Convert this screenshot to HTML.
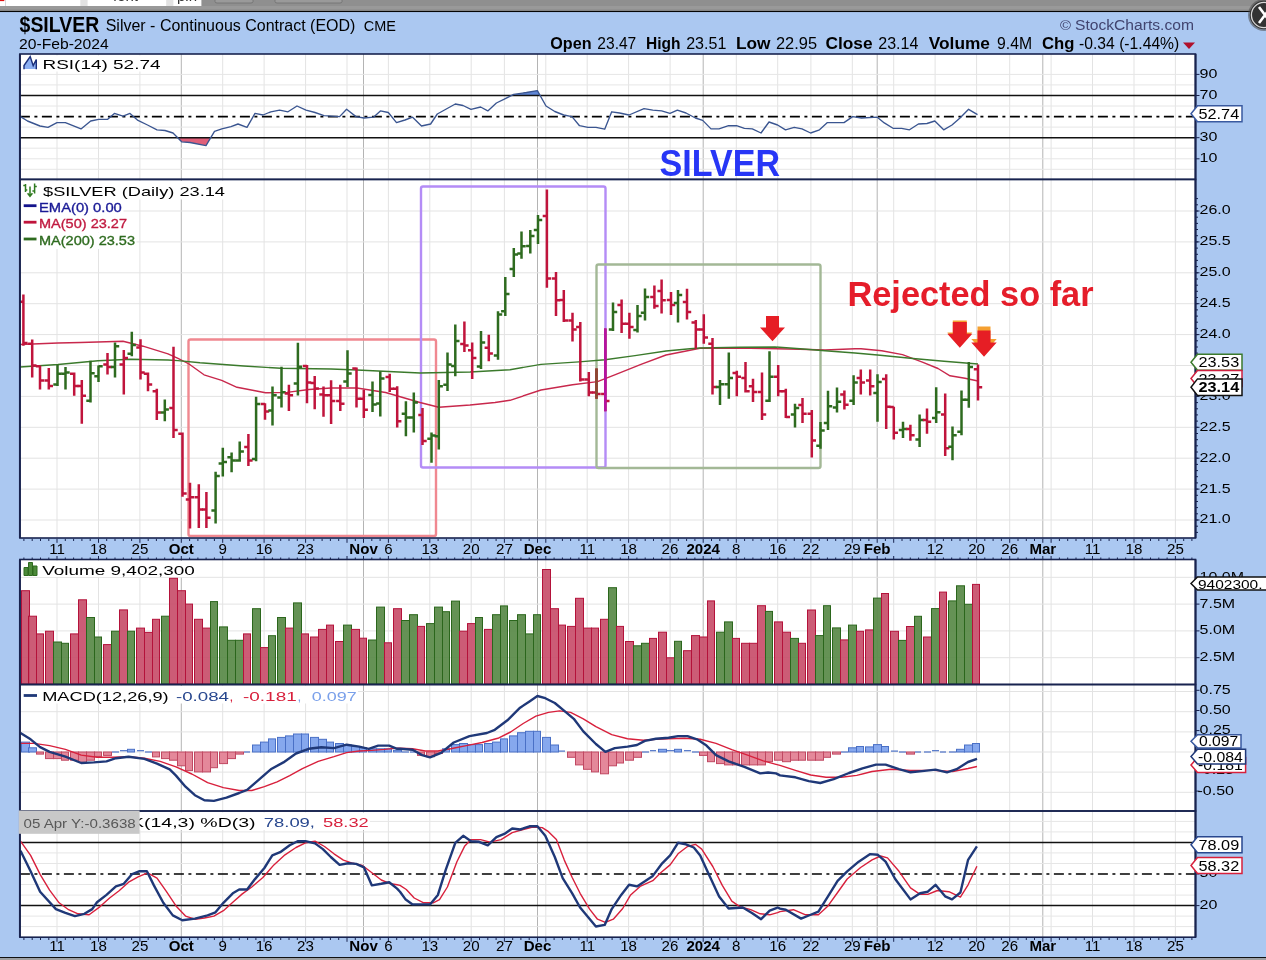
<!DOCTYPE html>
<html><head><meta charset="utf-8"><title>$SILVER</title>
<style>html,body{margin:0;padding:0;background:#abc8f1;overflow:hidden}svg{display:block;font-family:"Liberation Sans",sans-serif;will-change:transform}</style></head>
<body><svg width="1266" height="960" viewBox="0 0 1266 960">
<defs><clipPath id="cs"><rect x="0" y="0" width="210" height="6"/></clipPath></defs>
<rect x="0.0" y="0.0" width="1266.0" height="12.2" fill="#8f8f8f"/>
<rect x="0.0" y="6.0" width="1266.0" height="3.0" fill="#999"/>
<rect x="0.0" y="9.0" width="1266.0" height="0.6" fill="#777"/>
<rect x="0.0" y="9.6" width="1266.0" height="1.2" fill="#ababab"/>
<rect x="0.0" y="10.8" width="1266.0" height="1.4" fill="#050505"/>
<rect x="0.0" y="0.0" width="201.0" height="6.0" fill="#e2e2e2"/>
<rect x="0.0" y="0.0" width="5.0" height="6.0" fill="#fff"/>
<rect x="0.0" y="0.0" width="4.3" height="1.1" fill="#e01010"/>
<rect x="5.0" y="0.0" width="0.6" height="6.0" fill="#b8b8c0"/>
<rect x="5.7" y="0.0" width="74.6" height="6.0" fill="#fff"/>
<rect x="87.6" y="0.0" width="78.6" height="6.0" fill="#fff"/>
<rect x="173.4" y="0.0" width="28.0" height="6.0" fill="#fff"/>
<g clip-path="url(#cs)">
<text x="113.0" y="1.2" font-size="15" fill="#333">font</text>
<text x="177.0" y="1.2" font-size="15" fill="#333">pin</text>
</g>
<path d="M215,0V1.5Q215,3 217,3H251Q253,3 253,1.5V0" fill="#9a9a9a" stroke="#6e6e6e" stroke-width="0.8"/>
<path d="M275,0V1.5Q275,3 277,3H340Q342,3 342,1.5V0" fill="#9a9a9a" stroke="#6e6e6e" stroke-width="0.8"/>
<rect x="0.0" y="12.2" width="1266.0" height="945.1" fill="#abc8f1"/>
<rect x="0.0" y="957.0" width="1266.0" height="1.2" fill="#111"/>
<rect x="0.0" y="958.2" width="1266.0" height="2.0" fill="#a0a0a0"/>
<rect x="19.9" y="54.0" width="1175.6" height="125.4" fill="#fff"/>
<rect x="19.9" y="179.4" width="1175.6" height="358.6" fill="#fff"/>
<rect x="19.9" y="559.5" width="1175.6" height="125.0" fill="#fff"/>
<rect x="19.9" y="684.5" width="1175.6" height="126.5" fill="#fff"/>
<rect x="19.9" y="811.0" width="1175.6" height="126.2" fill="#fff"/>
<line x1="57.0" y1="54.0" x2="57.0" y2="179.4" stroke="#e3e3e3" stroke-width="1"/>
<line x1="98.5" y1="54.0" x2="98.5" y2="179.4" stroke="#e3e3e3" stroke-width="1"/>
<line x1="139.9" y1="54.0" x2="139.9" y2="179.4" stroke="#e3e3e3" stroke-width="1"/>
<line x1="181.3" y1="54.0" x2="181.3" y2="179.4" stroke="#b4b4b4" stroke-width="1"/>
<line x1="222.7" y1="54.0" x2="222.7" y2="179.4" stroke="#e3e3e3" stroke-width="1"/>
<line x1="264.1" y1="54.0" x2="264.1" y2="179.4" stroke="#e3e3e3" stroke-width="1"/>
<line x1="305.6" y1="54.0" x2="305.6" y2="179.4" stroke="#e3e3e3" stroke-width="1"/>
<line x1="347.0" y1="54.0" x2="347.0" y2="179.4" stroke="#e3e3e3" stroke-width="1"/>
<line x1="363.5" y1="54.0" x2="363.5" y2="179.4" stroke="#b4b4b4" stroke-width="1"/>
<line x1="388.4" y1="54.0" x2="388.4" y2="179.4" stroke="#e3e3e3" stroke-width="1"/>
<line x1="429.8" y1="54.0" x2="429.8" y2="179.4" stroke="#e3e3e3" stroke-width="1"/>
<line x1="471.2" y1="54.0" x2="471.2" y2="179.4" stroke="#e3e3e3" stroke-width="1"/>
<line x1="504.4" y1="54.0" x2="504.4" y2="179.4" stroke="#e3e3e3" stroke-width="1"/>
<line x1="537.5" y1="54.0" x2="537.5" y2="179.4" stroke="#b4b4b4" stroke-width="1"/>
<line x1="545.8" y1="54.0" x2="545.8" y2="179.4" stroke="#e3e3e3" stroke-width="1"/>
<line x1="587.2" y1="54.0" x2="587.2" y2="179.4" stroke="#e3e3e3" stroke-width="1"/>
<line x1="628.6" y1="54.0" x2="628.6" y2="179.4" stroke="#e3e3e3" stroke-width="1"/>
<line x1="670.1" y1="54.0" x2="670.1" y2="179.4" stroke="#e3e3e3" stroke-width="1"/>
<line x1="703.2" y1="54.0" x2="703.2" y2="179.4" stroke="#b4b4b4" stroke-width="1"/>
<line x1="736.3" y1="54.0" x2="736.3" y2="179.4" stroke="#e3e3e3" stroke-width="1"/>
<line x1="777.7" y1="54.0" x2="777.7" y2="179.4" stroke="#e3e3e3" stroke-width="1"/>
<line x1="810.9" y1="54.0" x2="810.9" y2="179.4" stroke="#e3e3e3" stroke-width="1"/>
<line x1="852.3" y1="54.0" x2="852.3" y2="179.4" stroke="#e3e3e3" stroke-width="1"/>
<line x1="877.2" y1="54.0" x2="877.2" y2="179.4" stroke="#b4b4b4" stroke-width="1"/>
<line x1="893.7" y1="54.0" x2="893.7" y2="179.4" stroke="#e3e3e3" stroke-width="1"/>
<line x1="935.1" y1="54.0" x2="935.1" y2="179.4" stroke="#e3e3e3" stroke-width="1"/>
<line x1="976.6" y1="54.0" x2="976.6" y2="179.4" stroke="#e3e3e3" stroke-width="1"/>
<line x1="1009.7" y1="54.0" x2="1009.7" y2="179.4" stroke="#e3e3e3" stroke-width="1"/>
<line x1="1042.8" y1="54.0" x2="1042.8" y2="179.4" stroke="#b4b4b4" stroke-width="1"/>
<line x1="1051.1" y1="54.0" x2="1051.1" y2="179.4" stroke="#e3e3e3" stroke-width="1"/>
<line x1="1092.5" y1="54.0" x2="1092.5" y2="179.4" stroke="#e3e3e3" stroke-width="1"/>
<line x1="1134.0" y1="54.0" x2="1134.0" y2="179.4" stroke="#e3e3e3" stroke-width="1"/>
<line x1="1175.4" y1="54.0" x2="1175.4" y2="179.4" stroke="#e3e3e3" stroke-width="1"/>
<line x1="57.0" y1="179.4" x2="57.0" y2="538.0" stroke="#e3e3e3" stroke-width="1"/>
<line x1="98.5" y1="179.4" x2="98.5" y2="538.0" stroke="#e3e3e3" stroke-width="1"/>
<line x1="139.9" y1="179.4" x2="139.9" y2="538.0" stroke="#e3e3e3" stroke-width="1"/>
<line x1="181.3" y1="179.4" x2="181.3" y2="538.0" stroke="#b4b4b4" stroke-width="1"/>
<line x1="222.7" y1="179.4" x2="222.7" y2="538.0" stroke="#e3e3e3" stroke-width="1"/>
<line x1="264.1" y1="179.4" x2="264.1" y2="538.0" stroke="#e3e3e3" stroke-width="1"/>
<line x1="305.6" y1="179.4" x2="305.6" y2="538.0" stroke="#e3e3e3" stroke-width="1"/>
<line x1="347.0" y1="179.4" x2="347.0" y2="538.0" stroke="#e3e3e3" stroke-width="1"/>
<line x1="363.5" y1="179.4" x2="363.5" y2="538.0" stroke="#b4b4b4" stroke-width="1"/>
<line x1="388.4" y1="179.4" x2="388.4" y2="538.0" stroke="#e3e3e3" stroke-width="1"/>
<line x1="429.8" y1="179.4" x2="429.8" y2="538.0" stroke="#e3e3e3" stroke-width="1"/>
<line x1="471.2" y1="179.4" x2="471.2" y2="538.0" stroke="#e3e3e3" stroke-width="1"/>
<line x1="504.4" y1="179.4" x2="504.4" y2="538.0" stroke="#e3e3e3" stroke-width="1"/>
<line x1="537.5" y1="179.4" x2="537.5" y2="538.0" stroke="#b4b4b4" stroke-width="1"/>
<line x1="545.8" y1="179.4" x2="545.8" y2="538.0" stroke="#e3e3e3" stroke-width="1"/>
<line x1="587.2" y1="179.4" x2="587.2" y2="538.0" stroke="#e3e3e3" stroke-width="1"/>
<line x1="628.6" y1="179.4" x2="628.6" y2="538.0" stroke="#e3e3e3" stroke-width="1"/>
<line x1="670.1" y1="179.4" x2="670.1" y2="538.0" stroke="#e3e3e3" stroke-width="1"/>
<line x1="703.2" y1="179.4" x2="703.2" y2="538.0" stroke="#b4b4b4" stroke-width="1"/>
<line x1="736.3" y1="179.4" x2="736.3" y2="538.0" stroke="#e3e3e3" stroke-width="1"/>
<line x1="777.7" y1="179.4" x2="777.7" y2="538.0" stroke="#e3e3e3" stroke-width="1"/>
<line x1="810.9" y1="179.4" x2="810.9" y2="538.0" stroke="#e3e3e3" stroke-width="1"/>
<line x1="852.3" y1="179.4" x2="852.3" y2="538.0" stroke="#e3e3e3" stroke-width="1"/>
<line x1="877.2" y1="179.4" x2="877.2" y2="538.0" stroke="#b4b4b4" stroke-width="1"/>
<line x1="893.7" y1="179.4" x2="893.7" y2="538.0" stroke="#e3e3e3" stroke-width="1"/>
<line x1="935.1" y1="179.4" x2="935.1" y2="538.0" stroke="#e3e3e3" stroke-width="1"/>
<line x1="976.6" y1="179.4" x2="976.6" y2="538.0" stroke="#e3e3e3" stroke-width="1"/>
<line x1="1009.7" y1="179.4" x2="1009.7" y2="538.0" stroke="#e3e3e3" stroke-width="1"/>
<line x1="1042.8" y1="179.4" x2="1042.8" y2="538.0" stroke="#b4b4b4" stroke-width="1"/>
<line x1="1051.1" y1="179.4" x2="1051.1" y2="538.0" stroke="#e3e3e3" stroke-width="1"/>
<line x1="1092.5" y1="179.4" x2="1092.5" y2="538.0" stroke="#e3e3e3" stroke-width="1"/>
<line x1="1134.0" y1="179.4" x2="1134.0" y2="538.0" stroke="#e3e3e3" stroke-width="1"/>
<line x1="1175.4" y1="179.4" x2="1175.4" y2="538.0" stroke="#e3e3e3" stroke-width="1"/>
<line x1="57.0" y1="559.5" x2="57.0" y2="684.5" stroke="#e3e3e3" stroke-width="1"/>
<line x1="98.5" y1="559.5" x2="98.5" y2="684.5" stroke="#e3e3e3" stroke-width="1"/>
<line x1="139.9" y1="559.5" x2="139.9" y2="684.5" stroke="#e3e3e3" stroke-width="1"/>
<line x1="181.3" y1="559.5" x2="181.3" y2="684.5" stroke="#b4b4b4" stroke-width="1"/>
<line x1="222.7" y1="559.5" x2="222.7" y2="684.5" stroke="#e3e3e3" stroke-width="1"/>
<line x1="264.1" y1="559.5" x2="264.1" y2="684.5" stroke="#e3e3e3" stroke-width="1"/>
<line x1="305.6" y1="559.5" x2="305.6" y2="684.5" stroke="#e3e3e3" stroke-width="1"/>
<line x1="347.0" y1="559.5" x2="347.0" y2="684.5" stroke="#e3e3e3" stroke-width="1"/>
<line x1="363.5" y1="559.5" x2="363.5" y2="684.5" stroke="#b4b4b4" stroke-width="1"/>
<line x1="388.4" y1="559.5" x2="388.4" y2="684.5" stroke="#e3e3e3" stroke-width="1"/>
<line x1="429.8" y1="559.5" x2="429.8" y2="684.5" stroke="#e3e3e3" stroke-width="1"/>
<line x1="471.2" y1="559.5" x2="471.2" y2="684.5" stroke="#e3e3e3" stroke-width="1"/>
<line x1="504.4" y1="559.5" x2="504.4" y2="684.5" stroke="#e3e3e3" stroke-width="1"/>
<line x1="537.5" y1="559.5" x2="537.5" y2="684.5" stroke="#b4b4b4" stroke-width="1"/>
<line x1="545.8" y1="559.5" x2="545.8" y2="684.5" stroke="#e3e3e3" stroke-width="1"/>
<line x1="587.2" y1="559.5" x2="587.2" y2="684.5" stroke="#e3e3e3" stroke-width="1"/>
<line x1="628.6" y1="559.5" x2="628.6" y2="684.5" stroke="#e3e3e3" stroke-width="1"/>
<line x1="670.1" y1="559.5" x2="670.1" y2="684.5" stroke="#e3e3e3" stroke-width="1"/>
<line x1="703.2" y1="559.5" x2="703.2" y2="684.5" stroke="#b4b4b4" stroke-width="1"/>
<line x1="736.3" y1="559.5" x2="736.3" y2="684.5" stroke="#e3e3e3" stroke-width="1"/>
<line x1="777.7" y1="559.5" x2="777.7" y2="684.5" stroke="#e3e3e3" stroke-width="1"/>
<line x1="810.9" y1="559.5" x2="810.9" y2="684.5" stroke="#e3e3e3" stroke-width="1"/>
<line x1="852.3" y1="559.5" x2="852.3" y2="684.5" stroke="#e3e3e3" stroke-width="1"/>
<line x1="877.2" y1="559.5" x2="877.2" y2="684.5" stroke="#b4b4b4" stroke-width="1"/>
<line x1="893.7" y1="559.5" x2="893.7" y2="684.5" stroke="#e3e3e3" stroke-width="1"/>
<line x1="935.1" y1="559.5" x2="935.1" y2="684.5" stroke="#e3e3e3" stroke-width="1"/>
<line x1="976.6" y1="559.5" x2="976.6" y2="684.5" stroke="#e3e3e3" stroke-width="1"/>
<line x1="1009.7" y1="559.5" x2="1009.7" y2="684.5" stroke="#e3e3e3" stroke-width="1"/>
<line x1="1042.8" y1="559.5" x2="1042.8" y2="684.5" stroke="#b4b4b4" stroke-width="1"/>
<line x1="1051.1" y1="559.5" x2="1051.1" y2="684.5" stroke="#e3e3e3" stroke-width="1"/>
<line x1="1092.5" y1="559.5" x2="1092.5" y2="684.5" stroke="#e3e3e3" stroke-width="1"/>
<line x1="1134.0" y1="559.5" x2="1134.0" y2="684.5" stroke="#e3e3e3" stroke-width="1"/>
<line x1="1175.4" y1="559.5" x2="1175.4" y2="684.5" stroke="#e3e3e3" stroke-width="1"/>
<line x1="57.0" y1="684.5" x2="57.0" y2="811.0" stroke="#e3e3e3" stroke-width="1"/>
<line x1="98.5" y1="684.5" x2="98.5" y2="811.0" stroke="#e3e3e3" stroke-width="1"/>
<line x1="139.9" y1="684.5" x2="139.9" y2="811.0" stroke="#e3e3e3" stroke-width="1"/>
<line x1="181.3" y1="684.5" x2="181.3" y2="811.0" stroke="#b4b4b4" stroke-width="1"/>
<line x1="222.7" y1="684.5" x2="222.7" y2="811.0" stroke="#e3e3e3" stroke-width="1"/>
<line x1="264.1" y1="684.5" x2="264.1" y2="811.0" stroke="#e3e3e3" stroke-width="1"/>
<line x1="305.6" y1="684.5" x2="305.6" y2="811.0" stroke="#e3e3e3" stroke-width="1"/>
<line x1="347.0" y1="684.5" x2="347.0" y2="811.0" stroke="#e3e3e3" stroke-width="1"/>
<line x1="363.5" y1="684.5" x2="363.5" y2="811.0" stroke="#b4b4b4" stroke-width="1"/>
<line x1="388.4" y1="684.5" x2="388.4" y2="811.0" stroke="#e3e3e3" stroke-width="1"/>
<line x1="429.8" y1="684.5" x2="429.8" y2="811.0" stroke="#e3e3e3" stroke-width="1"/>
<line x1="471.2" y1="684.5" x2="471.2" y2="811.0" stroke="#e3e3e3" stroke-width="1"/>
<line x1="504.4" y1="684.5" x2="504.4" y2="811.0" stroke="#e3e3e3" stroke-width="1"/>
<line x1="537.5" y1="684.5" x2="537.5" y2="811.0" stroke="#b4b4b4" stroke-width="1"/>
<line x1="545.8" y1="684.5" x2="545.8" y2="811.0" stroke="#e3e3e3" stroke-width="1"/>
<line x1="587.2" y1="684.5" x2="587.2" y2="811.0" stroke="#e3e3e3" stroke-width="1"/>
<line x1="628.6" y1="684.5" x2="628.6" y2="811.0" stroke="#e3e3e3" stroke-width="1"/>
<line x1="670.1" y1="684.5" x2="670.1" y2="811.0" stroke="#e3e3e3" stroke-width="1"/>
<line x1="703.2" y1="684.5" x2="703.2" y2="811.0" stroke="#b4b4b4" stroke-width="1"/>
<line x1="736.3" y1="684.5" x2="736.3" y2="811.0" stroke="#e3e3e3" stroke-width="1"/>
<line x1="777.7" y1="684.5" x2="777.7" y2="811.0" stroke="#e3e3e3" stroke-width="1"/>
<line x1="810.9" y1="684.5" x2="810.9" y2="811.0" stroke="#e3e3e3" stroke-width="1"/>
<line x1="852.3" y1="684.5" x2="852.3" y2="811.0" stroke="#e3e3e3" stroke-width="1"/>
<line x1="877.2" y1="684.5" x2="877.2" y2="811.0" stroke="#b4b4b4" stroke-width="1"/>
<line x1="893.7" y1="684.5" x2="893.7" y2="811.0" stroke="#e3e3e3" stroke-width="1"/>
<line x1="935.1" y1="684.5" x2="935.1" y2="811.0" stroke="#e3e3e3" stroke-width="1"/>
<line x1="976.6" y1="684.5" x2="976.6" y2="811.0" stroke="#e3e3e3" stroke-width="1"/>
<line x1="1009.7" y1="684.5" x2="1009.7" y2="811.0" stroke="#e3e3e3" stroke-width="1"/>
<line x1="1042.8" y1="684.5" x2="1042.8" y2="811.0" stroke="#b4b4b4" stroke-width="1"/>
<line x1="1051.1" y1="684.5" x2="1051.1" y2="811.0" stroke="#e3e3e3" stroke-width="1"/>
<line x1="1092.5" y1="684.5" x2="1092.5" y2="811.0" stroke="#e3e3e3" stroke-width="1"/>
<line x1="1134.0" y1="684.5" x2="1134.0" y2="811.0" stroke="#e3e3e3" stroke-width="1"/>
<line x1="1175.4" y1="684.5" x2="1175.4" y2="811.0" stroke="#e3e3e3" stroke-width="1"/>
<line x1="57.0" y1="811.0" x2="57.0" y2="937.2" stroke="#e3e3e3" stroke-width="1"/>
<line x1="98.5" y1="811.0" x2="98.5" y2="937.2" stroke="#e3e3e3" stroke-width="1"/>
<line x1="139.9" y1="811.0" x2="139.9" y2="937.2" stroke="#e3e3e3" stroke-width="1"/>
<line x1="181.3" y1="811.0" x2="181.3" y2="937.2" stroke="#b4b4b4" stroke-width="1"/>
<line x1="222.7" y1="811.0" x2="222.7" y2="937.2" stroke="#e3e3e3" stroke-width="1"/>
<line x1="264.1" y1="811.0" x2="264.1" y2="937.2" stroke="#e3e3e3" stroke-width="1"/>
<line x1="305.6" y1="811.0" x2="305.6" y2="937.2" stroke="#e3e3e3" stroke-width="1"/>
<line x1="347.0" y1="811.0" x2="347.0" y2="937.2" stroke="#e3e3e3" stroke-width="1"/>
<line x1="363.5" y1="811.0" x2="363.5" y2="937.2" stroke="#b4b4b4" stroke-width="1"/>
<line x1="388.4" y1="811.0" x2="388.4" y2="937.2" stroke="#e3e3e3" stroke-width="1"/>
<line x1="429.8" y1="811.0" x2="429.8" y2="937.2" stroke="#e3e3e3" stroke-width="1"/>
<line x1="471.2" y1="811.0" x2="471.2" y2="937.2" stroke="#e3e3e3" stroke-width="1"/>
<line x1="504.4" y1="811.0" x2="504.4" y2="937.2" stroke="#e3e3e3" stroke-width="1"/>
<line x1="537.5" y1="811.0" x2="537.5" y2="937.2" stroke="#b4b4b4" stroke-width="1"/>
<line x1="545.8" y1="811.0" x2="545.8" y2="937.2" stroke="#e3e3e3" stroke-width="1"/>
<line x1="587.2" y1="811.0" x2="587.2" y2="937.2" stroke="#e3e3e3" stroke-width="1"/>
<line x1="628.6" y1="811.0" x2="628.6" y2="937.2" stroke="#e3e3e3" stroke-width="1"/>
<line x1="670.1" y1="811.0" x2="670.1" y2="937.2" stroke="#e3e3e3" stroke-width="1"/>
<line x1="703.2" y1="811.0" x2="703.2" y2="937.2" stroke="#b4b4b4" stroke-width="1"/>
<line x1="736.3" y1="811.0" x2="736.3" y2="937.2" stroke="#e3e3e3" stroke-width="1"/>
<line x1="777.7" y1="811.0" x2="777.7" y2="937.2" stroke="#e3e3e3" stroke-width="1"/>
<line x1="810.9" y1="811.0" x2="810.9" y2="937.2" stroke="#e3e3e3" stroke-width="1"/>
<line x1="852.3" y1="811.0" x2="852.3" y2="937.2" stroke="#e3e3e3" stroke-width="1"/>
<line x1="877.2" y1="811.0" x2="877.2" y2="937.2" stroke="#b4b4b4" stroke-width="1"/>
<line x1="893.7" y1="811.0" x2="893.7" y2="937.2" stroke="#e3e3e3" stroke-width="1"/>
<line x1="935.1" y1="811.0" x2="935.1" y2="937.2" stroke="#e3e3e3" stroke-width="1"/>
<line x1="976.6" y1="811.0" x2="976.6" y2="937.2" stroke="#e3e3e3" stroke-width="1"/>
<line x1="1009.7" y1="811.0" x2="1009.7" y2="937.2" stroke="#e3e3e3" stroke-width="1"/>
<line x1="1042.8" y1="811.0" x2="1042.8" y2="937.2" stroke="#b4b4b4" stroke-width="1"/>
<line x1="1051.1" y1="811.0" x2="1051.1" y2="937.2" stroke="#e3e3e3" stroke-width="1"/>
<line x1="1092.5" y1="811.0" x2="1092.5" y2="937.2" stroke="#e3e3e3" stroke-width="1"/>
<line x1="1134.0" y1="811.0" x2="1134.0" y2="937.2" stroke="#e3e3e3" stroke-width="1"/>
<line x1="1175.4" y1="811.0" x2="1175.4" y2="937.2" stroke="#e3e3e3" stroke-width="1"/>
<line x1="19.9" y1="74.4" x2="1195.5" y2="74.4" stroke="#e6e6e6" stroke-width="1"/>
<line x1="19.9" y1="84.9" x2="1195.5" y2="84.9" stroke="#e6e6e6" stroke-width="1"/>
<line x1="19.9" y1="106.0" x2="1195.5" y2="106.0" stroke="#e6e6e6" stroke-width="1"/>
<line x1="19.9" y1="127.1" x2="1195.5" y2="127.1" stroke="#e6e6e6" stroke-width="1"/>
<line x1="19.9" y1="148.2" x2="1195.5" y2="148.2" stroke="#e6e6e6" stroke-width="1"/>
<line x1="19.9" y1="158.8" x2="1195.5" y2="158.8" stroke="#e6e6e6" stroke-width="1"/>
<line x1="19.9" y1="169.3" x2="1195.5" y2="169.3" stroke="#e6e6e6" stroke-width="1"/>
<clipPath id="c70"><rect x="0" y="0" width="1266" height="95.5"/></clipPath>
<clipPath id="c30"><rect x="0" y="137.7" width="1266" height="100"/></clipPath>
<polygon points="20.5,95.5 20.5,116.6 27.5,121.0 40.0,126.0 48.0,127.3 57.0,122.6 65.4,122.6 81.0,128.9 90.7,121.0 98.6,119.4 107.4,119.4 114.4,113.4 123.0,116.2 130.0,113.4 138.0,120.4 147.5,125.0 157.0,129.8 165.0,130.5 173.0,133.0 181.7,141.8 190.0,142.5 206.0,145.6 214.5,131.4 221.8,128.9 231.0,126.7 238.0,124.0 247.0,127.3 255.0,113.4 263.0,115.0 270.8,111.8 279.6,110.2 288.0,111.8 297.0,106.0 306.0,110.2 315.0,112.5 324.0,115.6 339.6,116.6 346.6,109.3 356.0,116.6 364.0,118.0 373.5,117.2 380.4,110.9 388.3,112.5 396.5,122.6 405.0,120.0 412.6,117.2 421.5,126.0 430.6,124.0 437.3,114.0 455.3,104.0 463.0,105.5 471.0,109.3 480.6,107.0 487.8,110.9 496.4,103.0 504.3,99.2 513.7,94.4 526.4,92.5 537.4,90.6 546.0,106.0 554.8,111.5 563.7,115.0 572.0,116.6 579.5,125.7 588.0,127.3 596.0,127.3 604.7,129.2 611.7,111.8 619.6,113.0 629.0,115.0 644.0,108.7 652.8,110.2 661.6,110.9 670.0,113.4 677.4,110.2 686.0,113.0 695.4,118.0 702.7,120.4 711.0,128.9 719.0,128.9 728.6,125.7 736.5,125.7 744.4,128.3 752.3,128.9 761.0,133.0 769.0,122.0 777.6,125.0 785.5,129.8 794.2,127.3 802.0,128.9 810.6,133.0 819.5,129.8 827.4,122.6 844.0,122.6 852.7,116.6 861.5,118.0 877.3,117.2 884.3,122.9 893.0,128.3 901.6,128.3 909.5,129.8 918.4,124.0 927.0,123.5 934.8,121.0 943.7,129.8 952.0,125.0 960.0,118.0 968.6,109.3 977.5,114.7 977.5,95.5" fill="#5f86d6" clip-path="url(#c70)"/>
<polygon points="20.5,137.7 20.5,116.6 27.5,121.0 40.0,126.0 48.0,127.3 57.0,122.6 65.4,122.6 81.0,128.9 90.7,121.0 98.6,119.4 107.4,119.4 114.4,113.4 123.0,116.2 130.0,113.4 138.0,120.4 147.5,125.0 157.0,129.8 165.0,130.5 173.0,133.0 181.7,141.8 190.0,142.5 206.0,145.6 214.5,131.4 221.8,128.9 231.0,126.7 238.0,124.0 247.0,127.3 255.0,113.4 263.0,115.0 270.8,111.8 279.6,110.2 288.0,111.8 297.0,106.0 306.0,110.2 315.0,112.5 324.0,115.6 339.6,116.6 346.6,109.3 356.0,116.6 364.0,118.0 373.5,117.2 380.4,110.9 388.3,112.5 396.5,122.6 405.0,120.0 412.6,117.2 421.5,126.0 430.6,124.0 437.3,114.0 455.3,104.0 463.0,105.5 471.0,109.3 480.6,107.0 487.8,110.9 496.4,103.0 504.3,99.2 513.7,94.4 526.4,92.5 537.4,90.6 546.0,106.0 554.8,111.5 563.7,115.0 572.0,116.6 579.5,125.7 588.0,127.3 596.0,127.3 604.7,129.2 611.7,111.8 619.6,113.0 629.0,115.0 644.0,108.7 652.8,110.2 661.6,110.9 670.0,113.4 677.4,110.2 686.0,113.0 695.4,118.0 702.7,120.4 711.0,128.9 719.0,128.9 728.6,125.7 736.5,125.7 744.4,128.3 752.3,128.9 761.0,133.0 769.0,122.0 777.6,125.0 785.5,129.8 794.2,127.3 802.0,128.9 810.6,133.0 819.5,129.8 827.4,122.6 844.0,122.6 852.7,116.6 861.5,118.0 877.3,117.2 884.3,122.9 893.0,128.3 901.6,128.3 909.5,129.8 918.4,124.0 927.0,123.5 934.8,121.0 943.7,129.8 952.0,125.0 960.0,118.0 968.6,109.3 977.5,114.7 977.5,137.7" fill="#e0607a" clip-path="url(#c30)"/>
<line x1="19.9" y1="95.5" x2="1195.5" y2="95.5" stroke="#111" stroke-width="1.5"/>
<line x1="19.9" y1="137.7" x2="1195.5" y2="137.7" stroke="#111" stroke-width="1.5"/>
<line x1="19.9" y1="116.6" x2="1195.5" y2="116.6" stroke="#000" stroke-width="1.65" stroke-dasharray="10,4.5,3,4.5"/>
<polyline points="20.5,116.6 27.5,121.0 40.0,126.0 48.0,127.3 57.0,122.6 65.4,122.6 81.0,128.9 90.7,121.0 98.6,119.4 107.4,119.4 114.4,113.4 123.0,116.2 130.0,113.4 138.0,120.4 147.5,125.0 157.0,129.8 165.0,130.5 173.0,133.0 181.7,141.8 190.0,142.5 206.0,145.6 214.5,131.4 221.8,128.9 231.0,126.7 238.0,124.0 247.0,127.3 255.0,113.4 263.0,115.0 270.8,111.8 279.6,110.2 288.0,111.8 297.0,106.0 306.0,110.2 315.0,112.5 324.0,115.6 339.6,116.6 346.6,109.3 356.0,116.6 364.0,118.0 373.5,117.2 380.4,110.9 388.3,112.5 396.5,122.6 405.0,120.0 412.6,117.2 421.5,126.0 430.6,124.0 437.3,114.0 455.3,104.0 463.0,105.5 471.0,109.3 480.6,107.0 487.8,110.9 496.4,103.0 504.3,99.2 513.7,94.4 526.4,92.5 537.4,90.6 546.0,106.0 554.8,111.5 563.7,115.0 572.0,116.6 579.5,125.7 588.0,127.3 596.0,127.3 604.7,129.2 611.7,111.8 619.6,113.0 629.0,115.0 644.0,108.7 652.8,110.2 661.6,110.9 670.0,113.4 677.4,110.2 686.0,113.0 695.4,118.0 702.7,120.4 711.0,128.9 719.0,128.9 728.6,125.7 736.5,125.7 744.4,128.3 752.3,128.9 761.0,133.0 769.0,122.0 777.6,125.0 785.5,129.8 794.2,127.3 802.0,128.9 810.6,133.0 819.5,129.8 827.4,122.6 844.0,122.6 852.7,116.6 861.5,118.0 877.3,117.2 884.3,122.9 893.0,128.3 901.6,128.3 909.5,129.8 918.4,124.0 927.0,123.5 934.8,121.0 943.7,129.8 952.0,125.0 960.0,118.0 968.6,109.3 977.5,114.7" fill="none" stroke="#3a5590" stroke-width="1.35" stroke-linejoin="round"/>
<rect x="21.0" y="55.5" width="141.0" height="16.0" fill="#fff"/>
<path d="M24,69 L24,65.5 L30.2,56.4 L33.2,65.6 L36.3,59.3 L36.3,69 Z" fill="#8db0f2"/><path d="M24,69.3 L24,65.5 L30.2,56.6 L33.2,65.6 L36.3,59.5 L36.3,69.3" fill="none" stroke="#1a2e7a" stroke-width="1.4" stroke-linejoin="miter"/>
<text x="42.5" y="68.8" font-size="13.5" textLength="118.0" lengthAdjust="spacingAndGlyphs">RSI(14) 52.74</text>
<line x1="19.9" y1="520.0" x2="1195.5" y2="520.0" stroke="#e3e3e3" stroke-width="1"/>
<line x1="19.9" y1="489.1" x2="1195.5" y2="489.1" stroke="#e3e3e3" stroke-width="1"/>
<line x1="19.9" y1="458.2" x2="1195.5" y2="458.2" stroke="#e3e3e3" stroke-width="1"/>
<line x1="19.9" y1="427.3" x2="1195.5" y2="427.3" stroke="#e3e3e3" stroke-width="1"/>
<line x1="19.9" y1="396.4" x2="1195.5" y2="396.4" stroke="#e3e3e3" stroke-width="1"/>
<line x1="19.9" y1="365.5" x2="1195.5" y2="365.5" stroke="#e3e3e3" stroke-width="1"/>
<line x1="19.9" y1="334.6" x2="1195.5" y2="334.6" stroke="#e3e3e3" stroke-width="1"/>
<line x1="19.9" y1="303.7" x2="1195.5" y2="303.7" stroke="#e3e3e3" stroke-width="1"/>
<line x1="19.9" y1="272.8" x2="1195.5" y2="272.8" stroke="#e3e3e3" stroke-width="1"/>
<line x1="19.9" y1="241.9" x2="1195.5" y2="241.9" stroke="#e3e3e3" stroke-width="1"/>
<line x1="19.9" y1="211.0" x2="1195.5" y2="211.0" stroke="#e3e3e3" stroke-width="1"/>
<rect x="188.5" y="339.5" width="247.5" height="196.5" fill="none" stroke="#f08890" stroke-width="2.4" rx="2"/>
<rect x="421.0" y="186.5" width="184.5" height="281.0" fill="none" stroke="#b48cf6" stroke-width="2.4" rx="2"/>
<rect x="596.5" y="264.5" width="224.0" height="203.5" fill="none" stroke="#a3b896" stroke-width="2.4" rx="2"/>
<polyline points="20.0,344.5 58.0,343.0 80.5,342.5 123.0,341.2 143.0,346.2 168.0,353.8 178.0,358.4 189.0,364.0 204.0,374.8 221.7,380.3 237.0,387.3 265.5,392.8 287.0,392.4 309.0,389.5 331.0,388.0 357.0,388.0 385.6,392.5 420.0,402.5 438.8,407.2 470.0,405.0 495.0,402.5 510.0,400.3 541.0,390.0 572.5,384.7 597.5,381.6 616.0,374.4 641.0,364.4 666.0,355.0 690.0,350.3 700.0,348.2 750.0,348.2 800.0,349.2 825.0,350.0 855.0,348.8 861.0,348.8 881.7,350.8 902.5,354.6 923.0,362.3 938.0,368.5 950.0,375.8 965.0,378.3 978.0,381.0" fill="none" stroke="#c8284c" stroke-width="1.4" stroke-linejoin="round"/>
<polyline points="20.0,367.0 58.0,364.5 98.0,360.8 130.5,359.2 168.0,360.0 178.0,360.6 200.0,362.8 243.6,366.0 280.8,368.3 331.0,369.0 357.0,370.0 420.0,373.0 470.0,372.0 510.0,369.7 541.0,364.4 579.0,361.9 605.0,359.7 635.0,355.6 666.0,351.0 690.0,348.8 700.0,348.0 740.0,347.3 775.0,347.0 800.0,348.8 825.0,350.8 855.0,353.0 877.5,355.0 913.0,358.5 944.0,361.2 978.0,364.0" fill="none" stroke="#3b7a2c" stroke-width="1.4" stroke-linejoin="round"/>
<path d="M23.4,294.4V345.8M19.2,301.8H23.4M23.4,343.0H27.6" stroke="#c0143c" stroke-width="2.5" fill="none"/>
<path d="M32.2,339.5V377.5M28.1,343.8H32.2M32.2,365.5H36.5" stroke="#c0143c" stroke-width="2.5" fill="none"/>
<path d="M40.0,365.5V389.5M35.8,366.2H40.0M40.0,380.5H44.2" stroke="#c0143c" stroke-width="2.5" fill="none"/>
<path d="M48.8,368.0V389.5M44.5,380.5H48.8M48.8,386.0H53.0" stroke="#c0143c" stroke-width="2.5" fill="none"/>
<path d="M57.5,364.5V386.0M53.3,384.5H57.5M57.5,373.8H61.7" stroke="#2e6b1f" stroke-width="2.5" fill="none"/>
<path d="M65.5,367.0V389.5M61.3,373.8H65.5M65.5,372.5H69.7" stroke="#2e6b1f" stroke-width="2.5" fill="none"/>
<path d="M74.2,372.5V395.8M70.0,373.8H74.2M74.2,386.0H78.5" stroke="#c0143c" stroke-width="2.5" fill="none"/>
<path d="M81.8,380.0V423.8M77.5,386.0H81.8M81.8,395.8H86.0" stroke="#c0143c" stroke-width="2.5" fill="none"/>
<path d="M90.5,360.8V402.5M86.3,400.8H90.5M90.5,373.2H94.7" stroke="#2e6b1f" stroke-width="2.5" fill="none"/>
<path d="M98.5,365.5V382.0M94.3,376.2H98.5M98.5,366.2H102.7" stroke="#2e6b1f" stroke-width="2.5" fill="none"/>
<path d="M107.5,353.0V374.5M103.3,364.5H107.5M107.5,367.0H111.7" stroke="#c0143c" stroke-width="2.5" fill="none"/>
<path d="M115.0,342.5V377.5M110.8,367.0H115.0M115.0,346.2H119.2" stroke="#2e6b1f" stroke-width="2.5" fill="none"/>
<path d="M123.8,350.0V394.5M119.5,364.5H123.8M123.8,358.0H128.0" stroke="#c0143c" stroke-width="2.5" fill="none"/>
<path d="M131.8,331.8V356.2M127.5,353.8H131.8M131.8,345.0H135.9" stroke="#2e6b1f" stroke-width="2.5" fill="none"/>
<path d="M140.5,339.2V379.5M136.3,347.5H140.5M140.5,372.5H144.7" stroke="#c0143c" stroke-width="2.5" fill="none"/>
<path d="M148.0,372.5V391.2M143.8,373.8H148.0M148.0,384.5H152.2" stroke="#c0143c" stroke-width="2.5" fill="none"/>
<path d="M156.8,388.8V420.0M152.6,391.2H156.8M156.8,412.5H160.9" stroke="#c0143c" stroke-width="2.5" fill="none"/>
<path d="M164.8,399.5V421.2M160.6,412.5H164.8M164.8,409.5H168.9" stroke="#2e6b1f" stroke-width="2.5" fill="none"/>
<path d="M173.5,346.8V438.0M169.3,408.0H173.5M173.5,430.0H177.7" stroke="#c0143c" stroke-width="2.5" fill="none"/>
<path d="M182.5,432.5V496.8M178.3,433.8H182.5M182.5,493.5H186.7" stroke="#c0143c" stroke-width="2.5" fill="none"/>
<path d="M190.0,482.7V528.4M185.8,499.5H190.0M190.0,497.3H194.2" stroke="#c0143c" stroke-width="2.5" fill="none"/>
<path d="M198.8,484.2V528.0M194.6,497.3H198.8M198.8,509.4H203.0" stroke="#c0143c" stroke-width="2.5" fill="none"/>
<path d="M206.4,491.9V528.0M202.2,509.4H206.4M206.4,517.7H210.6" stroke="#c0143c" stroke-width="2.5" fill="none"/>
<path d="M215.6,471.7V523.6M211.4,510.4H215.6M215.6,476.1H219.8" stroke="#2e6b1f" stroke-width="2.5" fill="none"/>
<path d="M222.8,447.7V476.5M218.6,463.4H222.8M222.8,461.9H227.0" stroke="#2e6b1f" stroke-width="2.5" fill="none"/>
<path d="M231.6,452.5V472.2M227.4,457.3H231.6M231.6,460.6H235.8" stroke="#2e6b1f" stroke-width="2.5" fill="none"/>
<path d="M239.7,441.5V461.7M235.5,460.6H239.7M239.7,451.4H243.9" stroke="#2e6b1f" stroke-width="2.5" fill="none"/>
<path d="M248.4,433.9V466.0M244.2,447.0H248.4M248.4,460.6H252.6" stroke="#c0143c" stroke-width="2.5" fill="none"/>
<path d="M256.1,396.7V461.2M251.9,459.0H256.1M256.1,403.9H260.3" stroke="#2e6b1f" stroke-width="2.5" fill="none"/>
<path d="M265.0,403.3V419.7M260.8,403.9H265.0M265.0,411.4H269.2" stroke="#c0143c" stroke-width="2.5" fill="none"/>
<path d="M272.5,386.4V425.6M268.3,410.5H272.5M272.5,395.2H276.7" stroke="#2e6b1f" stroke-width="2.5" fill="none"/>
<path d="M281.5,366.7V407.6M277.3,397.4H281.5M281.5,392.3H285.7" stroke="#2e6b1f" stroke-width="2.5" fill="none"/>
<path d="M288.9,384.7V410.9M284.7,393.4H288.9M288.9,395.2H293.1" stroke="#c0143c" stroke-width="2.5" fill="none"/>
<path d="M297.9,342.7V395.6M293.7,383.6H297.9M297.9,366.7H302.1" stroke="#2e6b1f" stroke-width="2.5" fill="none"/>
<path d="M307.0,365.0V403.3M302.8,366.0H307.0M307.0,382.5H311.2" stroke="#c0143c" stroke-width="2.5" fill="none"/>
<path d="M314.7,375.9V409.2M310.5,382.9H314.7M314.7,388.6H318.9" stroke="#c0143c" stroke-width="2.5" fill="none"/>
<path d="M323.5,386.4V416.8M319.3,394.5H323.5M323.5,395.2H327.7" stroke="#c0143c" stroke-width="2.5" fill="none"/>
<path d="M331.1,380.3V424.0M326.9,395.2H331.1M331.1,401.1H335.3" stroke="#c0143c" stroke-width="2.5" fill="none"/>
<path d="M340.3,384.7V410.9M336.1,401.1H340.3M340.3,403.7H344.5" stroke="#c0143c" stroke-width="2.5" fill="none"/>
<path d="M347.5,350.2V387.0M343.3,381.4H347.5M347.5,373.4H351.7" stroke="#2e6b1f" stroke-width="2.5" fill="none"/>
<path d="M356.5,367.5V407.5M352.3,368.4H356.5M356.5,398.8H360.7" stroke="#c0143c" stroke-width="2.5" fill="none"/>
<path d="M363.8,390.0V418.0M359.6,398.8H363.8M363.8,409.7H367.9" stroke="#c0143c" stroke-width="2.5" fill="none"/>
<path d="M372.5,381.5V411.9M368.3,395.0H372.5M372.5,404.4H376.7" stroke="#2e6b1f" stroke-width="2.5" fill="none"/>
<path d="M380.3,371.2V416.5M376.1,403.4H380.3M380.3,378.4H384.5" stroke="#2e6b1f" stroke-width="2.5" fill="none"/>
<path d="M389.7,373.8V391.9M385.5,376.9H389.7M389.7,388.8H393.9" stroke="#c0143c" stroke-width="2.5" fill="none"/>
<path d="M397.2,386.2V427.5M393.0,388.8H397.2M397.2,421.2H401.4" stroke="#c0143c" stroke-width="2.5" fill="none"/>
<path d="M405.9,401.2V436.2M401.7,413.8H405.9M405.9,417.5H410.1" stroke="#2e6b1f" stroke-width="2.5" fill="none"/>
<path d="M413.8,392.5V432.5M409.6,417.5H413.8M413.8,402.5H417.9" stroke="#2e6b1f" stroke-width="2.5" fill="none"/>
<path d="M422.5,408.0V445.0M418.3,415.0H422.5M422.5,441.0H426.7" stroke="#c0143c" stroke-width="2.5" fill="none"/>
<path d="M431.5,432.5V462.8M427.3,438.8H431.5M431.5,435.6H435.7" stroke="#2e6b1f" stroke-width="2.5" fill="none"/>
<path d="M438.8,380.0V449.4M434.6,436.2H438.8M438.8,386.2H442.9" stroke="#2e6b1f" stroke-width="2.5" fill="none"/>
<path d="M447.5,352.5V391.0M443.3,384.7H447.5M447.5,364.4H451.7" stroke="#2e6b1f" stroke-width="2.5" fill="none"/>
<path d="M455.3,324.4V376.2M451.1,366.0H455.3M455.3,341.0H459.5" stroke="#2e6b1f" stroke-width="2.5" fill="none"/>
<path d="M464.4,321.5V351.9M460.2,344.0H464.4M464.4,345.6H468.6" stroke="#c0143c" stroke-width="2.5" fill="none"/>
<path d="M472.2,342.5V379.0M468.0,350.3H472.2M472.2,358.0H476.4" stroke="#c0143c" stroke-width="2.5" fill="none"/>
<path d="M481.0,331.0V369.0M476.8,366.5H481.0M481.0,342.5H485.2" stroke="#2e6b1f" stroke-width="2.5" fill="none"/>
<path d="M488.8,334.7V361.2M484.6,347.8H488.8M488.8,353.4H492.9" stroke="#c0143c" stroke-width="2.5" fill="none"/>
<path d="M498.0,311.2V359.7M493.8,355.6H498.0M498.0,314.4H502.2" stroke="#2e6b1f" stroke-width="2.5" fill="none"/>
<path d="M505.3,276.9V316.0M501.1,311.2H505.3M505.3,294.0H509.5" stroke="#2e6b1f" stroke-width="2.5" fill="none"/>
<path d="M513.8,248.0V276.9M509.6,269.0H513.8M513.8,254.4H518.0" stroke="#2e6b1f" stroke-width="2.5" fill="none"/>
<path d="M521.5,231.5V258.8M517.3,253.4H521.5M521.5,246.2H525.7" stroke="#2e6b1f" stroke-width="2.5" fill="none"/>
<path d="M530.3,230.0V253.4M526.1,246.0H530.3M530.3,236.0H534.5" stroke="#2e6b1f" stroke-width="2.5" fill="none"/>
<path d="M538.0,215.0V244.0M533.8,230.0H538.0M538.0,220.0H542.2" stroke="#2e6b1f" stroke-width="2.5" fill="none"/>
<path d="M546.9,189.4V287.8M542.7,216.0H546.9M546.9,278.4H551.1" stroke="#c0143c" stroke-width="2.5" fill="none"/>
<path d="M556.0,272.0V316.0M551.8,278.4H556.0M556.0,300.3H560.2" stroke="#c0143c" stroke-width="2.5" fill="none"/>
<path d="M563.8,290.0V322.0M559.5,300.0H563.8M563.8,320.6H568.0" stroke="#c0143c" stroke-width="2.5" fill="none"/>
<path d="M572.5,312.8V341.5M568.3,320.6H572.5M572.5,329.4H576.7" stroke="#c0143c" stroke-width="2.5" fill="none"/>
<path d="M580.3,322.0V381.5M576.1,326.9H580.3M580.3,379.4H584.5" stroke="#c0143c" stroke-width="2.5" fill="none"/>
<path d="M588.8,372.0V396.2M584.5,379.4H588.8M588.8,392.5H593.0" stroke="#c0143c" stroke-width="2.5" fill="none"/>
<path d="M596.5,368.4V398.8M592.3,392.5H596.5M596.5,394.0H600.7" stroke="#c0143c" stroke-width="2.5" fill="none"/>
<path d="M605.3,328.4V411.2M601.1,394.0H605.3M605.3,401.0H609.5" stroke="#c0143c" stroke-width="2.5" fill="none"/>
<path d="M613.0,302.5V331.0M608.8,329.4H613.0M613.0,312.0H617.2" stroke="#2e6b1f" stroke-width="2.5" fill="none"/>
<path d="M621.6,299.4V333.0M617.4,305.0H621.6M621.6,323.8H625.8" stroke="#c0143c" stroke-width="2.5" fill="none"/>
<path d="M629.4,312.8V338.8M625.2,323.8H629.4M629.4,326.9H633.6" stroke="#c0143c" stroke-width="2.5" fill="none"/>
<path d="M637.5,305.0V332.5M633.3,330.0H637.5M637.5,316.0H641.7" stroke="#2e6b1f" stroke-width="2.5" fill="none"/>
<path d="M645.0,288.4V320.6M640.8,312.8H645.0M645.0,297.0H649.2" stroke="#2e6b1f" stroke-width="2.5" fill="none"/>
<path d="M654.4,285.6V308.8M650.2,297.0H654.4M654.4,306.0H658.6" stroke="#c0143c" stroke-width="2.5" fill="none"/>
<path d="M661.6,279.4V313.4M657.4,291.0H661.6M661.6,300.3H665.8" stroke="#c0143c" stroke-width="2.5" fill="none"/>
<path d="M671.0,292.0V315.0M666.8,300.0H671.0M671.0,305.0H675.2" stroke="#c0143c" stroke-width="2.5" fill="none"/>
<path d="M678.0,290.0V322.5M673.8,303.0H678.0M678.0,295.0H682.2" stroke="#2e6b1f" stroke-width="2.5" fill="none"/>
<path d="M687.0,288.8V319.5M682.8,302.0H687.0M687.0,312.0H691.2" stroke="#c0143c" stroke-width="2.5" fill="none"/>
<path d="M695.8,320.0V348.8M691.5,322.5H695.8M695.8,329.5H700.0" stroke="#c0143c" stroke-width="2.5" fill="none"/>
<path d="M703.8,314.2V343.8M699.5,329.5H703.8M703.8,337.5H708.0" stroke="#c0143c" stroke-width="2.5" fill="none"/>
<path d="M712.5,338.0V394.5M708.3,343.8H712.5M712.5,387.0H716.7" stroke="#c0143c" stroke-width="2.5" fill="none"/>
<path d="M720.0,380.0V405.0M715.8,387.0H720.0M720.0,384.2H724.2" stroke="#2e6b1f" stroke-width="2.5" fill="none"/>
<path d="M728.8,352.5V398.8M724.5,384.2H728.8M728.8,378.0H733.0" stroke="#2e6b1f" stroke-width="2.5" fill="none"/>
<path d="M736.8,370.8V396.2M732.5,373.0H736.8M736.8,376.8H741.0" stroke="#c0143c" stroke-width="2.5" fill="none"/>
<path d="M745.5,362.0V392.5M741.3,378.0H745.5M745.5,391.2H749.7" stroke="#c0143c" stroke-width="2.5" fill="none"/>
<path d="M753.0,378.8V402.0M748.8,386.2H753.0M753.0,392.0H757.2" stroke="#c0143c" stroke-width="2.5" fill="none"/>
<path d="M762.0,372.5V420.0M757.8,392.0H762.0M762.0,414.5H766.2" stroke="#c0143c" stroke-width="2.5" fill="none"/>
<path d="M769.5,351.2V402.0M765.3,400.8H769.5M769.5,376.8H773.7" stroke="#2e6b1f" stroke-width="2.5" fill="none"/>
<path d="M778.2,365.0V396.2M774.0,376.8H778.2M778.2,391.2H782.5" stroke="#c0143c" stroke-width="2.5" fill="none"/>
<path d="M785.8,388.8V418.0M781.5,391.2H785.8M785.8,417.0H790.0" stroke="#c0143c" stroke-width="2.5" fill="none"/>
<path d="M795.0,403.8V427.5M790.8,414.5H795.0M795.0,408.0H799.2" stroke="#2e6b1f" stroke-width="2.5" fill="none"/>
<path d="M802.5,398.0V423.0M798.3,405.0H802.5M802.5,413.8H806.7" stroke="#c0143c" stroke-width="2.5" fill="none"/>
<path d="M811.8,410.0V457.5M807.5,413.8H811.8M811.8,440.5H816.0" stroke="#c0143c" stroke-width="2.5" fill="none"/>
<path d="M820.5,422.0V448.8M816.3,445.8H820.5M820.5,430.5H824.7" stroke="#2e6b1f" stroke-width="2.5" fill="none"/>
<path d="M828.0,390.8V430.0M823.8,423.0H828.0M828.0,406.2H832.2" stroke="#2e6b1f" stroke-width="2.5" fill="none"/>
<path d="M837.0,387.5V412.5M832.8,407.5H837.0M837.0,401.8H841.2" stroke="#2e6b1f" stroke-width="2.5" fill="none"/>
<path d="M844.4,390.4V409.4M840.2,394.5H844.4M844.4,404.8H848.6" stroke="#c0143c" stroke-width="2.5" fill="none"/>
<path d="M853.6,375.2V405.0M849.4,400.8H853.6M853.6,382.5H857.8" stroke="#2e6b1f" stroke-width="2.5" fill="none"/>
<path d="M860.8,369.6V394.6M856.6,378.0H860.8M860.8,382.5H865.0" stroke="#c0143c" stroke-width="2.5" fill="none"/>
<path d="M870.2,369.6V395.6M866.0,380.6H870.2M870.2,386.2H874.4" stroke="#c0143c" stroke-width="2.5" fill="none"/>
<path d="M877.5,374.2V421.7M873.3,393.0H877.5M877.5,382.0H881.7" stroke="#2e6b1f" stroke-width="2.5" fill="none"/>
<path d="M886.2,374.2V429.0M882.0,379.0H886.2M886.2,406.7H890.5" stroke="#c0143c" stroke-width="2.5" fill="none"/>
<path d="M893.8,406.7V439.4M889.5,407.0H893.8M893.8,432.7H898.0" stroke="#c0143c" stroke-width="2.5" fill="none"/>
<path d="M903.0,421.7V438.0M898.8,430.0H903.0M903.0,429.0H907.2" stroke="#2e6b1f" stroke-width="2.5" fill="none"/>
<path d="M910.4,424.8V440.8M906.2,429.0H910.4M910.4,435.2H914.6" stroke="#c0143c" stroke-width="2.5" fill="none"/>
<path d="M919.6,414.4V447.0M915.4,439.4H919.6M919.6,420.0H923.8" stroke="#2e6b1f" stroke-width="2.5" fill="none"/>
<path d="M927.0,408.5V433.8M922.8,420.0H927.0M927.0,421.7H931.2" stroke="#c0143c" stroke-width="2.5" fill="none"/>
<path d="M936.2,387.3V423.0M932.0,418.0H936.2M936.2,412.3H940.5" stroke="#2e6b1f" stroke-width="2.5" fill="none"/>
<path d="M945.2,393.5V456.0M941.0,414.4H945.2M945.2,448.3H949.4" stroke="#c0143c" stroke-width="2.5" fill="none"/>
<path d="M952.5,426.5V460.2M948.3,446.7H952.5M952.5,435.2H956.7" stroke="#2e6b1f" stroke-width="2.5" fill="none"/>
<path d="M961.5,390.4V435.2M957.3,431.7H961.5M961.5,399.8H965.7" stroke="#2e6b1f" stroke-width="2.5" fill="none"/>
<path d="M968.8,361.9V407.7M964.5,399.8H968.8M968.8,367.0H973.0" stroke="#2e6b1f" stroke-width="2.5" fill="none"/>
<path d="M978.0,364.4V400.4M973.8,369.2H978.0M978.0,387.3H982.2" stroke="#c0143c" stroke-width="2.5" fill="none"/>
<line x1="605.3" y1="328.4" x2="605.3" y2="411.2" stroke="#b414a0" stroke-width="2.6"/>
<line x1="596.5" y1="368.4" x2="596.5" y2="398.8" stroke="#8a4a30" stroke-width="2.6"/>
<polygon points="766.0,316.0 779.0,316.0 779.0,327.5 785.0,327.5 772.5,341.2 760.0,327.5 766.0,327.5" fill="#e61e25"/>
<polygon points="952.8,320.6 966.8,320.6 966.8,332.5 972.3,332.5 959.8,346.5 947.3,332.5 952.8,332.5" fill="#f5a030"/>
<polygon points="952.8,322.0 966.8,322.0 966.8,333.8 972.3,333.8 959.8,347.7 947.3,333.8 952.8,333.8" fill="#e61e25"/>
<polygon points="977.5,326.5 990.5,326.5 990.5,339.0 996.7,339.0 984.0,353.5 971.3,339.0 977.5,339.0" fill="#f5a030"/>
<polygon points="977.5,330.5 990.5,330.5 990.5,342.5 996.7,342.5 984.0,356.7 971.3,342.5 977.5,342.5" fill="#e61e25"/>
<text x="659.5" y="175.8" font-size="36.8" font-weight="bold" fill="#2736f6" textLength="120.5" lengthAdjust="spacingAndGlyphs">SILVER</text>
<text x="847.5" y="305.8" font-size="35.4" font-weight="bold" fill="#e51d2a" textLength="246.0" lengthAdjust="spacingAndGlyphs">Rejected so far</text>
<rect x="21.0" y="181.0" width="206.0" height="18.5" fill="#fff"/>
<rect x="21.0" y="199.5" width="102.5" height="16.5" fill="#fff"/>
<rect x="21.0" y="216.0" width="107.5" height="16.5" fill="#fff"/>
<rect x="21.0" y="232.5" width="115.5" height="16.5" fill="#fff"/>
<path d="M25.5,184V192M23.3,185.5H25.5M25.5,190H27.3 M30,186.5V196.8M27.6,193.2L30,196.3L32.4,193.2 M34.6,183.5V193.5M34.6,186.5H36.8M32.4,191H34.6" stroke="#2e7a1f" stroke-width="1.5" fill="none"/>
<text x="43.0" y="195.9" font-size="13.5" textLength="182.0" lengthAdjust="spacingAndGlyphs">$SILVER (Daily) 23.14</text>
<line x1="23.7" y1="205.7" x2="36.5" y2="205.7" stroke="#14148c" stroke-width="2.8"/>
<text x="39.0" y="211.6" font-size="13.5" fill="#1a1a96" textLength="82.8" lengthAdjust="spacingAndGlyphs" stroke-width="0.35" stroke="#1a1a96">EMA(0) 0.00</text>
<line x1="23.7" y1="222.2" x2="36.5" y2="222.2" stroke="#c0143c" stroke-width="2.8"/>
<text x="39.0" y="228.0" font-size="13.5" fill="#c01a40" textLength="88.0" lengthAdjust="spacingAndGlyphs" stroke-width="0.35" stroke="#c01a40">MA(50) 23.27</text>
<line x1="23.7" y1="239.0" x2="36.5" y2="239.0" stroke="#2e6b1f" stroke-width="2.8"/>
<text x="39.0" y="244.6" font-size="13.5" fill="#2e6b1f" textLength="96.0" lengthAdjust="spacingAndGlyphs" stroke-width="0.35" stroke="#2e6b1f">MA(200) 23.53</text>
<line x1="19.9" y1="657.7" x2="1195.5" y2="657.7" stroke="#e3e3e3" stroke-width="1"/>
<line x1="19.9" y1="630.9" x2="1195.5" y2="630.9" stroke="#e3e3e3" stroke-width="1"/>
<line x1="19.9" y1="604.1" x2="1195.5" y2="604.1" stroke="#e3e3e3" stroke-width="1"/>
<line x1="19.9" y1="577.3" x2="1195.5" y2="577.3" stroke="#e3e3e3" stroke-width="1"/>
<rect x="21.5" y="590.7" width="8.0" height="93.3" fill="#c8506c" stroke="#b4123a" stroke-width="1" fill-opacity="0.93"/>
<rect x="28.5" y="616.2" width="8.0" height="67.8" fill="#c8506c" stroke="#b4123a" stroke-width="1" fill-opacity="0.93"/>
<rect x="36.5" y="633.9" width="7.0" height="50.1" fill="#c8506c" stroke="#b4123a" stroke-width="1" fill-opacity="0.93"/>
<rect x="45.5" y="631.2" width="8.0" height="52.8" fill="#c8506c" stroke="#b4123a" stroke-width="1" fill-opacity="0.93"/>
<rect x="53.5" y="642.0" width="8.0" height="42.0" fill="#598a48" stroke="#2b661c" stroke-width="1" fill-opacity="0.93"/>
<rect x="61.5" y="643.3" width="7.0" height="40.7" fill="#598a48" stroke="#2b661c" stroke-width="1" fill-opacity="0.93"/>
<rect x="70.5" y="633.9" width="8.0" height="50.1" fill="#c8506c" stroke="#b4123a" stroke-width="1" fill-opacity="0.93"/>
<rect x="78.5" y="599.8" width="8.0" height="84.2" fill="#c8506c" stroke="#b4123a" stroke-width="1" fill-opacity="0.93"/>
<rect x="86.5" y="617.5" width="8.0" height="66.5" fill="#598a48" stroke="#2b661c" stroke-width="1" fill-opacity="0.93"/>
<rect x="94.5" y="637.0" width="7.0" height="47.0" fill="#598a48" stroke="#2b661c" stroke-width="1" fill-opacity="0.93"/>
<rect x="103.5" y="644.6" width="8.0" height="39.4" fill="#c8506c" stroke="#b4123a" stroke-width="1" fill-opacity="0.93"/>
<rect x="111.5" y="631.2" width="8.0" height="52.8" fill="#598a48" stroke="#2b661c" stroke-width="1" fill-opacity="0.93"/>
<rect x="119.5" y="609.9" width="8.0" height="74.1" fill="#c8506c" stroke="#b4123a" stroke-width="1" fill-opacity="0.93"/>
<rect x="127.5" y="631.2" width="7.0" height="52.8" fill="#598a48" stroke="#2b661c" stroke-width="1" fill-opacity="0.93"/>
<rect x="136.5" y="628.1" width="8.0" height="55.9" fill="#c8506c" stroke="#b4123a" stroke-width="1" fill-opacity="0.93"/>
<rect x="144.5" y="632.4" width="8.0" height="51.6" fill="#c8506c" stroke="#b4123a" stroke-width="1" fill-opacity="0.93"/>
<rect x="152.5" y="619.3" width="7.0" height="64.7" fill="#c8506c" stroke="#b4123a" stroke-width="1" fill-opacity="0.93"/>
<rect x="161.5" y="616.2" width="8.0" height="67.8" fill="#598a48" stroke="#2b661c" stroke-width="1" fill-opacity="0.93"/>
<rect x="169.5" y="578.3" width="8.0" height="105.7" fill="#c8506c" stroke="#b4123a" stroke-width="1" fill-opacity="0.93"/>
<rect x="177.5" y="590.7" width="8.0" height="93.3" fill="#c8506c" stroke="#b4123a" stroke-width="1" fill-opacity="0.93"/>
<rect x="185.5" y="604.1" width="7.0" height="79.9" fill="#c8506c" stroke="#b4123a" stroke-width="1" fill-opacity="0.93"/>
<rect x="194.5" y="619.3" width="8.0" height="64.7" fill="#c8506c" stroke="#b4123a" stroke-width="1" fill-opacity="0.93"/>
<rect x="202.5" y="628.1" width="8.0" height="55.9" fill="#c8506c" stroke="#b4123a" stroke-width="1" fill-opacity="0.93"/>
<rect x="210.5" y="601.6" width="7.0" height="82.4" fill="#598a48" stroke="#2b661c" stroke-width="1" fill-opacity="0.93"/>
<rect x="219.5" y="626.9" width="8.0" height="57.1" fill="#598a48" stroke="#2b661c" stroke-width="1" fill-opacity="0.93"/>
<rect x="227.5" y="640.3" width="8.0" height="43.7" fill="#598a48" stroke="#2b661c" stroke-width="1" fill-opacity="0.93"/>
<rect x="235.5" y="640.3" width="8.0" height="43.7" fill="#598a48" stroke="#2b661c" stroke-width="1" fill-opacity="0.93"/>
<rect x="243.5" y="633.9" width="7.0" height="50.1" fill="#c8506c" stroke="#b4123a" stroke-width="1" fill-opacity="0.93"/>
<rect x="252.5" y="608.7" width="8.0" height="75.3" fill="#598a48" stroke="#2b661c" stroke-width="1" fill-opacity="0.93"/>
<rect x="260.5" y="647.6" width="8.0" height="36.4" fill="#c8506c" stroke="#b4123a" stroke-width="1" fill-opacity="0.93"/>
<rect x="268.5" y="635.7" width="7.0" height="48.3" fill="#598a48" stroke="#2b661c" stroke-width="1" fill-opacity="0.93"/>
<rect x="277.5" y="617.5" width="8.0" height="66.5" fill="#598a48" stroke="#2b661c" stroke-width="1" fill-opacity="0.93"/>
<rect x="285.5" y="628.1" width="8.0" height="55.9" fill="#c8506c" stroke="#b4123a" stroke-width="1" fill-opacity="0.93"/>
<rect x="293.5" y="602.9" width="8.0" height="81.1" fill="#598a48" stroke="#2b661c" stroke-width="1" fill-opacity="0.93"/>
<rect x="301.5" y="633.9" width="7.0" height="50.1" fill="#c8506c" stroke="#b4123a" stroke-width="1" fill-opacity="0.93"/>
<rect x="310.5" y="637.0" width="8.0" height="47.0" fill="#c8506c" stroke="#b4123a" stroke-width="1" fill-opacity="0.93"/>
<rect x="318.5" y="629.4" width="8.0" height="54.6" fill="#c8506c" stroke="#b4123a" stroke-width="1" fill-opacity="0.93"/>
<rect x="326.5" y="625.1" width="7.0" height="58.9" fill="#c8506c" stroke="#b4123a" stroke-width="1" fill-opacity="0.93"/>
<rect x="335.5" y="641.5" width="8.0" height="42.5" fill="#c8506c" stroke="#b4123a" stroke-width="1" fill-opacity="0.93"/>
<rect x="343.5" y="625.1" width="8.0" height="58.9" fill="#598a48" stroke="#2b661c" stroke-width="1" fill-opacity="0.93"/>
<rect x="351.5" y="629.4" width="8.0" height="54.6" fill="#c8506c" stroke="#b4123a" stroke-width="1" fill-opacity="0.93"/>
<rect x="359.5" y="638.2" width="7.0" height="45.8" fill="#c8506c" stroke="#b4123a" stroke-width="1" fill-opacity="0.93"/>
<rect x="368.5" y="640.0" width="8.0" height="44.0" fill="#598a48" stroke="#2b661c" stroke-width="1" fill-opacity="0.93"/>
<rect x="376.5" y="607.1" width="8.0" height="76.9" fill="#598a48" stroke="#2b661c" stroke-width="1" fill-opacity="0.93"/>
<rect x="384.5" y="642.8" width="7.0" height="41.2" fill="#c8506c" stroke="#b4123a" stroke-width="1" fill-opacity="0.93"/>
<rect x="393.5" y="608.7" width="8.0" height="75.3" fill="#c8506c" stroke="#b4123a" stroke-width="1" fill-opacity="0.93"/>
<rect x="401.5" y="620.5" width="8.0" height="63.5" fill="#598a48" stroke="#2b661c" stroke-width="1" fill-opacity="0.93"/>
<rect x="409.5" y="614.7" width="8.0" height="69.3" fill="#598a48" stroke="#2b661c" stroke-width="1" fill-opacity="0.93"/>
<rect x="417.5" y="626.4" width="7.0" height="57.6" fill="#c8506c" stroke="#b4123a" stroke-width="1" fill-opacity="0.93"/>
<rect x="426.5" y="623.6" width="8.0" height="60.4" fill="#598a48" stroke="#2b661c" stroke-width="1" fill-opacity="0.93"/>
<rect x="434.5" y="607.1" width="8.0" height="76.9" fill="#598a48" stroke="#2b661c" stroke-width="1" fill-opacity="0.93"/>
<rect x="442.5" y="611.7" width="7.0" height="72.3" fill="#598a48" stroke="#2b661c" stroke-width="1" fill-opacity="0.93"/>
<rect x="451.5" y="601.1" width="8.0" height="82.9" fill="#598a48" stroke="#2b661c" stroke-width="1" fill-opacity="0.93"/>
<rect x="459.5" y="631.2" width="8.0" height="52.8" fill="#c8506c" stroke="#b4123a" stroke-width="1" fill-opacity="0.93"/>
<rect x="467.5" y="623.6" width="8.0" height="60.4" fill="#c8506c" stroke="#b4123a" stroke-width="1" fill-opacity="0.93"/>
<rect x="475.5" y="617.5" width="7.0" height="66.5" fill="#598a48" stroke="#2b661c" stroke-width="1" fill-opacity="0.93"/>
<rect x="484.5" y="629.4" width="8.0" height="54.6" fill="#c8506c" stroke="#b4123a" stroke-width="1" fill-opacity="0.93"/>
<rect x="492.5" y="614.7" width="8.0" height="69.3" fill="#598a48" stroke="#2b661c" stroke-width="1" fill-opacity="0.93"/>
<rect x="500.5" y="605.9" width="7.0" height="78.1" fill="#598a48" stroke="#2b661c" stroke-width="1" fill-opacity="0.93"/>
<rect x="509.5" y="620.5" width="8.0" height="63.5" fill="#598a48" stroke="#2b661c" stroke-width="1" fill-opacity="0.93"/>
<rect x="517.5" y="614.7" width="8.0" height="69.3" fill="#598a48" stroke="#2b661c" stroke-width="1" fill-opacity="0.93"/>
<rect x="525.5" y="633.9" width="8.0" height="50.1" fill="#598a48" stroke="#2b661c" stroke-width="1" fill-opacity="0.93"/>
<rect x="533.5" y="614.7" width="7.0" height="69.3" fill="#598a48" stroke="#2b661c" stroke-width="1" fill-opacity="0.93"/>
<rect x="542.5" y="569.5" width="8.0" height="114.5" fill="#c8506c" stroke="#b4123a" stroke-width="1" fill-opacity="0.93"/>
<rect x="550.5" y="608.7" width="8.0" height="75.3" fill="#c8506c" stroke="#b4123a" stroke-width="1" fill-opacity="0.93"/>
<rect x="558.5" y="625.1" width="7.0" height="58.9" fill="#c8506c" stroke="#b4123a" stroke-width="1" fill-opacity="0.93"/>
<rect x="567.5" y="626.4" width="8.0" height="57.6" fill="#c8506c" stroke="#b4123a" stroke-width="1" fill-opacity="0.93"/>
<rect x="575.5" y="598.3" width="8.0" height="85.7" fill="#c8506c" stroke="#b4123a" stroke-width="1" fill-opacity="0.93"/>
<rect x="583.5" y="628.1" width="8.0" height="55.9" fill="#c8506c" stroke="#b4123a" stroke-width="1" fill-opacity="0.93"/>
<rect x="591.5" y="628.1" width="7.0" height="55.9" fill="#c8506c" stroke="#b4123a" stroke-width="1" fill-opacity="0.93"/>
<rect x="600.5" y="619.3" width="8.0" height="64.7" fill="#c8506c" stroke="#b4123a" stroke-width="1" fill-opacity="0.93"/>
<rect x="608.5" y="587.7" width="8.0" height="96.3" fill="#598a48" stroke="#2b661c" stroke-width="1" fill-opacity="0.93"/>
<rect x="616.5" y="626.4" width="7.0" height="57.6" fill="#c8506c" stroke="#b4123a" stroke-width="1" fill-opacity="0.93"/>
<rect x="625.5" y="641.5" width="8.0" height="42.5" fill="#c8506c" stroke="#b4123a" stroke-width="1" fill-opacity="0.93"/>
<rect x="633.5" y="645.8" width="8.0" height="38.2" fill="#598a48" stroke="#2b661c" stroke-width="1" fill-opacity="0.93"/>
<rect x="641.5" y="643.3" width="8.0" height="40.7" fill="#598a48" stroke="#2b661c" stroke-width="1" fill-opacity="0.93"/>
<rect x="649.5" y="638.4" width="7.0" height="45.6" fill="#c8506c" stroke="#b4123a" stroke-width="1" fill-opacity="0.93"/>
<rect x="658.5" y="632.2" width="8.0" height="51.8" fill="#c8506c" stroke="#b4123a" stroke-width="1" fill-opacity="0.93"/>
<rect x="666.5" y="657.8" width="8.0" height="26.2" fill="#c8506c" stroke="#b4123a" stroke-width="1" fill-opacity="0.93"/>
<rect x="674.5" y="641.3" width="7.0" height="42.7" fill="#598a48" stroke="#2b661c" stroke-width="1" fill-opacity="0.93"/>
<rect x="683.5" y="650.7" width="8.0" height="33.3" fill="#c8506c" stroke="#b4123a" stroke-width="1" fill-opacity="0.93"/>
<rect x="691.5" y="635.6" width="8.0" height="48.4" fill="#c8506c" stroke="#b4123a" stroke-width="1" fill-opacity="0.93"/>
<rect x="699.5" y="637.0" width="8.0" height="47.0" fill="#c8506c" stroke="#b4123a" stroke-width="1" fill-opacity="0.93"/>
<rect x="707.5" y="600.9" width="7.0" height="83.1" fill="#c8506c" stroke="#b4123a" stroke-width="1" fill-opacity="0.93"/>
<rect x="716.5" y="632.2" width="8.0" height="51.8" fill="#598a48" stroke="#2b661c" stroke-width="1" fill-opacity="0.93"/>
<rect x="724.5" y="621.9" width="8.0" height="62.1" fill="#598a48" stroke="#2b661c" stroke-width="1" fill-opacity="0.93"/>
<rect x="732.5" y="638.4" width="7.0" height="45.6" fill="#c8506c" stroke="#b4123a" stroke-width="1" fill-opacity="0.93"/>
<rect x="741.5" y="643.3" width="8.0" height="40.7" fill="#c8506c" stroke="#b4123a" stroke-width="1" fill-opacity="0.93"/>
<rect x="749.5" y="643.3" width="8.0" height="40.7" fill="#c8506c" stroke="#b4123a" stroke-width="1" fill-opacity="0.93"/>
<rect x="757.5" y="605.7" width="8.0" height="78.3" fill="#c8506c" stroke="#b4123a" stroke-width="1" fill-opacity="0.93"/>
<rect x="765.5" y="611.4" width="7.0" height="72.6" fill="#598a48" stroke="#2b661c" stroke-width="1" fill-opacity="0.93"/>
<rect x="774.5" y="621.9" width="8.0" height="62.1" fill="#c8506c" stroke="#b4123a" stroke-width="1" fill-opacity="0.93"/>
<rect x="782.5" y="632.2" width="8.0" height="51.8" fill="#c8506c" stroke="#b4123a" stroke-width="1" fill-opacity="0.93"/>
<rect x="790.5" y="638.4" width="8.0" height="45.6" fill="#598a48" stroke="#2b661c" stroke-width="1" fill-opacity="0.93"/>
<rect x="798.5" y="643.3" width="7.0" height="40.7" fill="#c8506c" stroke="#b4123a" stroke-width="1" fill-opacity="0.93"/>
<rect x="807.5" y="610.0" width="8.0" height="74.0" fill="#c8506c" stroke="#b4123a" stroke-width="1" fill-opacity="0.93"/>
<rect x="815.5" y="635.6" width="8.0" height="48.4" fill="#598a48" stroke="#2b661c" stroke-width="1" fill-opacity="0.93"/>
<rect x="823.5" y="605.7" width="7.0" height="78.3" fill="#598a48" stroke="#2b661c" stroke-width="1" fill-opacity="0.93"/>
<rect x="832.5" y="627.9" width="8.0" height="56.1" fill="#598a48" stroke="#2b661c" stroke-width="1" fill-opacity="0.93"/>
<rect x="840.5" y="639.9" width="8.0" height="44.1" fill="#c8506c" stroke="#b4123a" stroke-width="1" fill-opacity="0.93"/>
<rect x="848.5" y="625.1" width="8.0" height="58.9" fill="#598a48" stroke="#2b661c" stroke-width="1" fill-opacity="0.93"/>
<rect x="856.5" y="631.3" width="7.0" height="52.7" fill="#c8506c" stroke="#b4123a" stroke-width="1" fill-opacity="0.93"/>
<rect x="865.5" y="629.9" width="8.0" height="54.1" fill="#c8506c" stroke="#b4123a" stroke-width="1" fill-opacity="0.93"/>
<rect x="873.5" y="598.1" width="8.0" height="85.9" fill="#598a48" stroke="#2b661c" stroke-width="1" fill-opacity="0.93"/>
<rect x="881.5" y="593.5" width="7.0" height="90.5" fill="#c8506c" stroke="#b4123a" stroke-width="1" fill-opacity="0.93"/>
<rect x="890.5" y="631.3" width="8.0" height="52.7" fill="#c8506c" stroke="#b4123a" stroke-width="1" fill-opacity="0.93"/>
<rect x="898.5" y="640.4" width="8.0" height="43.6" fill="#598a48" stroke="#2b661c" stroke-width="1" fill-opacity="0.93"/>
<rect x="906.5" y="626.5" width="8.0" height="57.5" fill="#c8506c" stroke="#b4123a" stroke-width="1" fill-opacity="0.93"/>
<rect x="914.5" y="616.3" width="7.0" height="67.7" fill="#598a48" stroke="#2b661c" stroke-width="1" fill-opacity="0.93"/>
<rect x="923.5" y="637.0" width="8.0" height="47.0" fill="#c8506c" stroke="#b4123a" stroke-width="1" fill-opacity="0.93"/>
<rect x="931.5" y="608.6" width="8.0" height="75.4" fill="#598a48" stroke="#2b661c" stroke-width="1" fill-opacity="0.93"/>
<rect x="939.5" y="592.1" width="7.0" height="91.9" fill="#c8506c" stroke="#b4123a" stroke-width="1" fill-opacity="0.93"/>
<rect x="948.5" y="600.9" width="8.0" height="83.1" fill="#598a48" stroke="#2b661c" stroke-width="1" fill-opacity="0.93"/>
<rect x="956.5" y="585.8" width="8.0" height="98.2" fill="#598a48" stroke="#2b661c" stroke-width="1" fill-opacity="0.93"/>
<rect x="964.5" y="604.3" width="8.0" height="79.7" fill="#598a48" stroke="#2b661c" stroke-width="1" fill-opacity="0.93"/>
<rect x="972.5" y="584.4" width="7.0" height="99.6" fill="#c8506c" stroke="#b4123a" stroke-width="1" fill-opacity="0.93"/>
<rect x="21.0" y="561.0" width="175.5" height="16.0" fill="#fff"/>
<path d="M24,575.5v-8h4v8zM28.5,575.5v-13h4v13zM33,575.5v-9.5h4v9.5z" fill="#4c8a3a" stroke="#2e6b1f" stroke-width="1"/>
<text x="42.2" y="574.6" font-size="13.5" textLength="152.6" lengthAdjust="spacingAndGlyphs">Volume 9,402,300</text>
<line x1="19.9" y1="691.5" x2="1195.5" y2="691.5" stroke="#e3e3e3" stroke-width="1"/>
<line x1="19.9" y1="711.7" x2="1195.5" y2="711.7" stroke="#e3e3e3" stroke-width="1"/>
<line x1="19.9" y1="731.9" x2="1195.5" y2="731.9" stroke="#e3e3e3" stroke-width="1"/>
<line x1="19.9" y1="752.0" x2="1195.5" y2="752.0" stroke="#e3e3e3" stroke-width="1"/>
<line x1="19.9" y1="772.1" x2="1195.5" y2="772.1" stroke="#e3e3e3" stroke-width="1"/>
<line x1="19.9" y1="792.3" x2="1195.5" y2="792.3" stroke="#e3e3e3" stroke-width="1"/>
<rect x="21.5" y="742.1" width="8.0" height="9.9" fill="#86a8ee" stroke="#4a70c6" stroke-width="1"/>
<rect x="28.5" y="747.8" width="8.0" height="4.2" fill="#86a8ee" stroke="#4a70c6" stroke-width="1"/>
<rect x="36.5" y="752.0" width="7.0" height="2.1" fill="#e4889a" stroke="#c04862" stroke-width="1"/>
<rect x="45.5" y="752.0" width="8.0" height="6.6" fill="#e4889a" stroke="#c04862" stroke-width="1"/>
<rect x="53.5" y="752.0" width="8.0" height="6.6" fill="#e4889a" stroke="#c04862" stroke-width="1"/>
<rect x="61.5" y="752.0" width="7.0" height="8.2" fill="#e4889a" stroke="#c04862" stroke-width="1"/>
<rect x="70.5" y="752.0" width="8.0" height="8.2" fill="#e4889a" stroke="#c04862" stroke-width="1"/>
<rect x="78.5" y="752.0" width="8.0" height="10.4" fill="#e4889a" stroke="#c04862" stroke-width="1"/>
<rect x="86.5" y="752.0" width="8.0" height="8.2" fill="#e4889a" stroke="#c04862" stroke-width="1"/>
<rect x="94.5" y="752.0" width="7.0" height="4.4" fill="#e4889a" stroke="#c04862" stroke-width="1"/>
<rect x="103.5" y="752.0" width="8.0" height="3.4" fill="#e4889a" stroke="#c04862" stroke-width="1"/>
<line x1="112.0" y1="752.0" x2="119.0" y2="752.0" stroke="#4a70c6" stroke-width="1.2"/>
<line x1="120.0" y1="750.7" x2="127.0" y2="750.7" stroke="#4a70c6" stroke-width="1.2"/>
<rect x="127.5" y="749.3" width="7.0" height="2.7" fill="#86a8ee" stroke="#4a70c6" stroke-width="1"/>
<line x1="137.0" y1="750.7" x2="144.0" y2="750.7" stroke="#4a70c6" stroke-width="1.2"/>
<line x1="145.0" y1="752.0" x2="152.0" y2="752.0" stroke="#4a70c6" stroke-width="1.2"/>
<rect x="152.5" y="752.0" width="7.0" height="4.9" fill="#e4889a" stroke="#c04862" stroke-width="1"/>
<rect x="161.5" y="752.0" width="8.0" height="6.6" fill="#e4889a" stroke="#c04862" stroke-width="1"/>
<rect x="169.5" y="752.0" width="8.0" height="8.2" fill="#e4889a" stroke="#c04862" stroke-width="1"/>
<rect x="177.5" y="752.0" width="8.0" height="13.8" fill="#e4889a" stroke="#c04862" stroke-width="1"/>
<rect x="185.5" y="752.0" width="7.0" height="18.6" fill="#e4889a" stroke="#c04862" stroke-width="1"/>
<rect x="194.5" y="752.0" width="8.0" height="19.9" fill="#e4889a" stroke="#c04862" stroke-width="1"/>
<rect x="202.5" y="752.0" width="8.0" height="19.9" fill="#e4889a" stroke="#c04862" stroke-width="1"/>
<rect x="210.5" y="752.0" width="7.0" height="15.7" fill="#e4889a" stroke="#c04862" stroke-width="1"/>
<rect x="219.5" y="752.0" width="8.0" height="11.6" fill="#e4889a" stroke="#c04862" stroke-width="1"/>
<rect x="227.5" y="752.0" width="8.0" height="6.6" fill="#e4889a" stroke="#c04862" stroke-width="1"/>
<rect x="235.5" y="752.0" width="8.0" height="2.1" fill="#e4889a" stroke="#c04862" stroke-width="1"/>
<line x1="244.0" y1="752.0" x2="250.0" y2="752.0" stroke="#4a70c6" stroke-width="1.2"/>
<rect x="252.5" y="745.0" width="8.0" height="7.0" fill="#86a8ee" stroke="#4a70c6" stroke-width="1"/>
<rect x="260.5" y="742.1" width="8.0" height="9.9" fill="#86a8ee" stroke="#4a70c6" stroke-width="1"/>
<rect x="268.5" y="738.9" width="7.0" height="13.1" fill="#86a8ee" stroke="#4a70c6" stroke-width="1"/>
<rect x="277.5" y="737.4" width="8.0" height="14.6" fill="#86a8ee" stroke="#4a70c6" stroke-width="1"/>
<rect x="285.5" y="735.9" width="8.0" height="16.1" fill="#86a8ee" stroke="#4a70c6" stroke-width="1"/>
<rect x="293.5" y="734.0" width="8.0" height="18.0" fill="#86a8ee" stroke="#4a70c6" stroke-width="1"/>
<rect x="301.5" y="734.0" width="7.0" height="18.0" fill="#86a8ee" stroke="#4a70c6" stroke-width="1"/>
<rect x="310.5" y="737.4" width="8.0" height="14.6" fill="#86a8ee" stroke="#4a70c6" stroke-width="1"/>
<rect x="318.5" y="739.3" width="8.0" height="12.7" fill="#86a8ee" stroke="#4a70c6" stroke-width="1"/>
<rect x="326.5" y="742.1" width="7.0" height="9.9" fill="#86a8ee" stroke="#4a70c6" stroke-width="1"/>
<rect x="335.5" y="743.5" width="8.0" height="8.5" fill="#86a8ee" stroke="#4a70c6" stroke-width="1"/>
<rect x="343.5" y="745.0" width="8.0" height="7.0" fill="#86a8ee" stroke="#4a70c6" stroke-width="1"/>
<rect x="351.5" y="746.5" width="8.0" height="5.5" fill="#86a8ee" stroke="#4a70c6" stroke-width="1"/>
<rect x="359.5" y="747.8" width="7.0" height="4.2" fill="#86a8ee" stroke="#4a70c6" stroke-width="1"/>
<rect x="368.5" y="748.8" width="8.0" height="3.2" fill="#86a8ee" stroke="#4a70c6" stroke-width="1"/>
<rect x="376.5" y="748.8" width="8.0" height="3.2" fill="#86a8ee" stroke="#4a70c6" stroke-width="1"/>
<rect x="384.5" y="748.8" width="7.0" height="3.2" fill="#86a8ee" stroke="#4a70c6" stroke-width="1"/>
<rect x="393.5" y="750.3" width="8.0" height="1.7" fill="#86a8ee" stroke="#4a70c6" stroke-width="1"/>
<line x1="402.0" y1="752.0" x2="409.0" y2="752.0" stroke="#4a70c6" stroke-width="1.2"/>
<line x1="410.0" y1="752.0" x2="417.0" y2="752.0" stroke="#4a70c6" stroke-width="1.2"/>
<rect x="417.5" y="752.0" width="7.0" height="3.4" fill="#e4889a" stroke="#c04862" stroke-width="1"/>
<rect x="426.5" y="752.0" width="8.0" height="4.7" fill="#e4889a" stroke="#c04862" stroke-width="1"/>
<rect x="434.5" y="752.0" width="8.0" height="1.5" fill="#e4889a" stroke="#c04862" stroke-width="1"/>
<rect x="442.5" y="748.8" width="7.0" height="3.2" fill="#86a8ee" stroke="#4a70c6" stroke-width="1"/>
<rect x="451.5" y="744.6" width="8.0" height="7.4" fill="#86a8ee" stroke="#4a70c6" stroke-width="1"/>
<rect x="459.5" y="743.5" width="8.0" height="8.5" fill="#86a8ee" stroke="#4a70c6" stroke-width="1"/>
<rect x="467.5" y="744.6" width="8.0" height="7.4" fill="#86a8ee" stroke="#4a70c6" stroke-width="1"/>
<rect x="475.5" y="744.6" width="7.0" height="7.4" fill="#86a8ee" stroke="#4a70c6" stroke-width="1"/>
<rect x="484.5" y="743.5" width="8.0" height="8.5" fill="#86a8ee" stroke="#4a70c6" stroke-width="1"/>
<rect x="492.5" y="742.1" width="8.0" height="9.9" fill="#86a8ee" stroke="#4a70c6" stroke-width="1"/>
<rect x="500.5" y="738.9" width="7.0" height="13.1" fill="#86a8ee" stroke="#4a70c6" stroke-width="1"/>
<rect x="509.5" y="735.9" width="8.0" height="16.1" fill="#86a8ee" stroke="#4a70c6" stroke-width="1"/>
<rect x="517.5" y="732.7" width="8.0" height="19.3" fill="#86a8ee" stroke="#4a70c6" stroke-width="1"/>
<rect x="525.5" y="731.3" width="8.0" height="20.7" fill="#86a8ee" stroke="#4a70c6" stroke-width="1"/>
<rect x="533.5" y="731.3" width="7.0" height="20.7" fill="#86a8ee" stroke="#4a70c6" stroke-width="1"/>
<rect x="542.5" y="737.4" width="8.0" height="14.6" fill="#86a8ee" stroke="#4a70c6" stroke-width="1"/>
<rect x="550.5" y="745.0" width="8.0" height="7.0" fill="#86a8ee" stroke="#4a70c6" stroke-width="1"/>
<line x1="559.0" y1="751.1" x2="565.0" y2="751.1" stroke="#4a70c6" stroke-width="1.2"/>
<rect x="567.5" y="752.0" width="8.0" height="5.3" fill="#e4889a" stroke="#c04862" stroke-width="1"/>
<rect x="575.5" y="752.0" width="8.0" height="12.9" fill="#e4889a" stroke="#c04862" stroke-width="1"/>
<rect x="583.5" y="752.0" width="8.0" height="17.3" fill="#e4889a" stroke="#c04862" stroke-width="1"/>
<rect x="591.5" y="752.0" width="7.0" height="19.9" fill="#e4889a" stroke="#c04862" stroke-width="1"/>
<rect x="600.5" y="752.0" width="8.0" height="21.8" fill="#e4889a" stroke="#c04862" stroke-width="1"/>
<rect x="608.5" y="752.0" width="8.0" height="13.8" fill="#e4889a" stroke="#c04862" stroke-width="1"/>
<rect x="616.5" y="752.0" width="7.0" height="11.0" fill="#e4889a" stroke="#c04862" stroke-width="1"/>
<rect x="625.5" y="752.0" width="8.0" height="8.2" fill="#e4889a" stroke="#c04862" stroke-width="1"/>
<rect x="633.5" y="752.0" width="8.0" height="5.3" fill="#e4889a" stroke="#c04862" stroke-width="1"/>
<line x1="642.0" y1="752.0" x2="649.0" y2="752.0" stroke="#4a70c6" stroke-width="1.2"/>
<line x1="650.0" y1="750.7" x2="656.0" y2="750.7" stroke="#4a70c6" stroke-width="1.2"/>
<rect x="658.5" y="749.3" width="8.0" height="2.7" fill="#86a8ee" stroke="#4a70c6" stroke-width="1"/>
<line x1="667.0" y1="750.7" x2="674.0" y2="750.7" stroke="#4a70c6" stroke-width="1.2"/>
<rect x="674.5" y="749.3" width="7.0" height="2.7" fill="#86a8ee" stroke="#4a70c6" stroke-width="1"/>
<line x1="684.0" y1="750.7" x2="691.0" y2="750.7" stroke="#4a70c6" stroke-width="1.2"/>
<line x1="692.0" y1="752.0" x2="699.0" y2="752.0" stroke="#4a70c6" stroke-width="1.2"/>
<rect x="699.5" y="752.0" width="8.0" height="3.4" fill="#e4889a" stroke="#c04862" stroke-width="1"/>
<rect x="707.5" y="752.0" width="7.0" height="9.7" fill="#e4889a" stroke="#c04862" stroke-width="1"/>
<rect x="716.5" y="752.0" width="8.0" height="11.6" fill="#e4889a" stroke="#c04862" stroke-width="1"/>
<rect x="724.5" y="752.0" width="8.0" height="12.9" fill="#e4889a" stroke="#c04862" stroke-width="1"/>
<rect x="732.5" y="752.0" width="7.0" height="12.9" fill="#e4889a" stroke="#c04862" stroke-width="1"/>
<rect x="741.5" y="752.0" width="8.0" height="12.9" fill="#e4889a" stroke="#c04862" stroke-width="1"/>
<rect x="749.5" y="752.0" width="8.0" height="12.9" fill="#e4889a" stroke="#c04862" stroke-width="1"/>
<rect x="757.5" y="752.0" width="8.0" height="12.9" fill="#e4889a" stroke="#c04862" stroke-width="1"/>
<rect x="765.5" y="752.0" width="7.0" height="9.7" fill="#e4889a" stroke="#c04862" stroke-width="1"/>
<rect x="774.5" y="752.0" width="8.0" height="8.2" fill="#e4889a" stroke="#c04862" stroke-width="1"/>
<rect x="782.5" y="752.0" width="8.0" height="9.7" fill="#e4889a" stroke="#c04862" stroke-width="1"/>
<rect x="790.5" y="752.0" width="8.0" height="8.2" fill="#e4889a" stroke="#c04862" stroke-width="1"/>
<rect x="798.5" y="752.0" width="7.0" height="8.2" fill="#e4889a" stroke="#c04862" stroke-width="1"/>
<rect x="807.5" y="752.0" width="8.0" height="8.2" fill="#e4889a" stroke="#c04862" stroke-width="1"/>
<rect x="815.5" y="752.0" width="8.0" height="8.2" fill="#e4889a" stroke="#c04862" stroke-width="1"/>
<rect x="823.5" y="752.0" width="7.0" height="5.3" fill="#e4889a" stroke="#c04862" stroke-width="1"/>
<rect x="832.5" y="752.0" width="8.0" height="2.1" fill="#e4889a" stroke="#c04862" stroke-width="1"/>
<line x1="841.0" y1="752.0" x2="848.0" y2="752.0" stroke="#4a70c6" stroke-width="1.2"/>
<rect x="848.5" y="747.8" width="8.0" height="4.2" fill="#86a8ee" stroke="#4a70c6" stroke-width="1"/>
<rect x="856.5" y="746.5" width="7.0" height="5.5" fill="#86a8ee" stroke="#4a70c6" stroke-width="1"/>
<rect x="865.5" y="746.9" width="8.0" height="5.1" fill="#86a8ee" stroke="#4a70c6" stroke-width="1"/>
<rect x="873.5" y="744.6" width="8.0" height="7.4" fill="#86a8ee" stroke="#4a70c6" stroke-width="1"/>
<rect x="881.5" y="746.5" width="7.0" height="5.5" fill="#86a8ee" stroke="#4a70c6" stroke-width="1"/>
<line x1="891.0" y1="751.1" x2="898.0" y2="751.1" stroke="#4a70c6" stroke-width="1.2"/>
<line x1="899.0" y1="752.0" x2="906.0" y2="752.0" stroke="#4a70c6" stroke-width="1.2"/>
<rect x="906.5" y="752.0" width="8.0" height="2.1" fill="#e4889a" stroke="#c04862" stroke-width="1"/>
<line x1="915.0" y1="752.0" x2="921.0" y2="752.0" stroke="#4a70c6" stroke-width="1.2"/>
<line x1="924.0" y1="752.0" x2="931.0" y2="752.0" stroke="#4a70c6" stroke-width="1.2"/>
<line x1="932.0" y1="750.7" x2="939.0" y2="750.7" stroke="#4a70c6" stroke-width="1.2"/>
<line x1="940.0" y1="752.0" x2="946.0" y2="752.0" stroke="#4a70c6" stroke-width="1.2"/>
<line x1="949.0" y1="752.0" x2="956.0" y2="752.0" stroke="#4a70c6" stroke-width="1.2"/>
<rect x="956.5" y="749.3" width="8.0" height="2.7" fill="#86a8ee" stroke="#4a70c6" stroke-width="1"/>
<rect x="964.5" y="745.0" width="8.0" height="7.0" fill="#86a8ee" stroke="#4a70c6" stroke-width="1"/>
<rect x="972.5" y="743.5" width="7.0" height="8.5" fill="#86a8ee" stroke="#4a70c6" stroke-width="1"/>
<polyline points="20.5,743.4 33.8,743.4 49.6,745.6 65.4,749.4 81.2,755.1 97.0,757.3 112.8,757.3 128.6,756.7 144.4,758.2 160.2,761.4 176.0,766.8 191.8,774.0 207.6,782.6 223.4,787.6 239.2,790.5 251.8,790.5 264.4,786.7 277.1,781.9 289.7,775.6 302.4,768.7 318.2,761.4 334.0,756.7 346.6,752.6 359.2,751.0 371.9,750.4 384.5,749.4 397.1,748.1 400.0,748.1 412.6,748.8 425.3,751.0 437.9,751.0 450.6,748.8 466.4,745.6 482.1,742.5 497.9,738.3 510.6,732.0 523.2,723.5 535.9,716.2 548.5,712.4 559.6,710.9 570.6,712.4 583.3,718.8 595.9,726.7 611.7,734.6 627.5,738.7 643.3,740.2 655.9,739.3 668.6,738.7 684.4,738.3 700.2,739.3 716.0,743.4 731.8,749.7 747.6,755.1 763.3,760.8 776.0,764.3 780.0,765.4 795.4,770.4 810.7,775.0 826.0,777.3 841.4,777.3 856.8,775.4 872.0,771.5 891.3,769.2 910.5,770.4 933.5,770.4 952.7,771.5 968.0,768.5 977.0,766.5" fill="none" stroke="#d8203c" stroke-width="1.4" stroke-linejoin="round"/>
<polyline points="20.5,733.0 30.6,739.3 40.1,747.2 49.6,751.9 65.4,756.7 81.2,763.0 93.8,762.4 106.5,761.4 115.9,758.2 128.6,756.7 144.4,758.9 157.0,763.6 169.7,769.3 176.0,775.6 185.5,786.7 194.9,795.2 204.4,800.3 213.9,800.9 226.5,797.7 239.2,793.0 247.1,789.8 258.1,780.4 270.8,769.3 283.4,762.4 296.0,753.5 308.7,748.8 321.3,747.2 334.0,748.1 346.6,744.7 359.2,746.6 368.7,748.8 378.2,745.6 389.2,745.6 397.1,748.8 400.0,748.8 412.6,749.7 422.1,755.1 430.0,757.3 441.1,752.9 453.7,742.5 469.5,736.1 486.9,733.0 494.8,729.8 507.4,720.3 520.1,707.7 529.5,701.4 537.4,696.0 545.3,698.2 554.8,703.0 564.3,710.9 573.8,718.8 583.3,731.4 595.9,744.0 605.4,751.9 614.8,748.1 627.5,746.6 637.0,745.0 644.9,740.9 655.9,738.7 668.6,737.7 678.0,736.1 687.5,736.1 697.0,739.3 706.5,745.6 716.0,755.1 728.6,761.4 744.4,766.8 760.2,773.4 768.1,772.5 776.0,773.4 780.0,775.4 795.4,777.3 808.8,781.1 820.3,783.0 833.7,779.2 849.0,773.0 862.5,768.4 876.0,764.6 885.6,764.6 899.0,769.2 910.5,772.3 922.0,771.1 935.5,769.6 947.0,772.3 956.6,769.2 968.0,762.0 977.0,758.9" fill="none" stroke="#1f3878" stroke-width="2.4" stroke-linejoin="round"/>
<rect x="21.0" y="686.0" width="337.0" height="17.5" fill="#fff"/>
<line x1="23.7" y1="695.5" x2="37.0" y2="695.5" stroke="#1f3878" stroke-width="2.8"/>
<text x="42.2" y="700.6" font-size="13.5" textLength="126.5" lengthAdjust="spacingAndGlyphs">MACD(12,26,9)</text>
<text x="176.0" y="700.6" font-size="13.5" fill="#28478e" textLength="53.0" lengthAdjust="spacingAndGlyphs">-0.084</text>
<text x="229.5" y="700.6" font-size="13.5" fill="#d8203c">,</text>
<text x="243.0" y="700.6" font-size="13.5" fill="#d8203c" textLength="53.7" lengthAdjust="spacingAndGlyphs">-0.181</text>
<text x="297.5" y="700.6" font-size="13.5" fill="#7aa0ea">,</text>
<text x="311.8" y="700.6" font-size="13.5" fill="#7aa0ea" textLength="44.9" lengthAdjust="spacingAndGlyphs">0.097</text>
<line x1="19.9" y1="821.4" x2="1195.5" y2="821.4" stroke="#e6e6e6" stroke-width="1"/>
<line x1="19.9" y1="831.9" x2="1195.5" y2="831.9" stroke="#e6e6e6" stroke-width="1"/>
<line x1="19.9" y1="852.9" x2="1195.5" y2="852.9" stroke="#e6e6e6" stroke-width="1"/>
<line x1="19.9" y1="863.5" x2="1195.5" y2="863.5" stroke="#e6e6e6" stroke-width="1"/>
<line x1="19.9" y1="884.5" x2="1195.5" y2="884.5" stroke="#e6e6e6" stroke-width="1"/>
<line x1="19.9" y1="895.1" x2="1195.5" y2="895.1" stroke="#e6e6e6" stroke-width="1"/>
<line x1="19.9" y1="916.1" x2="1195.5" y2="916.1" stroke="#e6e6e6" stroke-width="1"/>
<line x1="19.9" y1="926.6" x2="1195.5" y2="926.6" stroke="#e6e6e6" stroke-width="1"/>
<line x1="19.9" y1="842.4" x2="1195.5" y2="842.4" stroke="#111" stroke-width="1.5"/>
<line x1="19.9" y1="905.6" x2="1195.5" y2="905.6" stroke="#111" stroke-width="1.5"/>
<line x1="19.9" y1="874.0" x2="1195.5" y2="874.0" stroke="#000" stroke-width="1.65" stroke-dasharray="10,4.5,3,4.5"/>
<polyline points="20.5,841.2 30.6,855.4 40.1,874.4 49.6,890.1 59.1,902.8 68.6,909.7 78.0,913.8 89.1,914.8 100.1,906.6 109.6,898.0 119.1,890.8 128.6,882.2 138.1,876.9 147.5,872.8 157.0,878.1 166.5,891.7 176.0,905.9 185.5,916.1 194.9,919.2 204.4,918.0 213.9,916.1 223.4,910.7 232.8,902.2 242.3,893.9 251.8,887.0 262.9,877.5 273.9,864.9 285.0,854.8 296.0,847.5 305.5,842.8 315.0,841.2 324.5,846.5 334.0,853.8 343.4,860.1 352.9,863.3 362.4,865.5 371.9,872.8 381.3,880.0 390.8,883.8 397.1,884.8 400.0,885.4 406.3,889.5 414.2,898.0 423.7,902.8 433.2,902.8 439.5,899.6 447.4,887.0 456.9,861.7 464.8,845.9 471.1,839.6 480.6,839.6 490.0,842.1 501.1,839.6 512.2,832.6 523.2,829.5 532.7,827.0 542.2,827.6 548.5,831.7 556.4,839.6 564.3,860.1 572.2,877.5 580.1,893.3 589.6,909.1 597.5,919.2 605.4,922.4 613.3,919.2 622.7,908.5 630.6,894.9 640.1,886.4 652.8,880.7 660.7,872.8 670.1,864.9 678.0,853.8 687.5,846.5 695.4,844.3 701.7,849.1 712.8,866.5 722.3,885.4 731.8,901.2 739.7,906.6 750.7,909.7 760.2,913.8 769.7,914.8 777.6,912.6 780.0,911.6 793.4,909.7 805.0,914.7 818.4,914.7 828.0,905.9 837.6,892.5 847.2,879.0 860.6,867.5 872.1,859.8 880.6,856.0 887.5,857.9 899.0,871.3 910.5,887.8 920.1,894.4 927.8,894.4 937.4,890.5 948.9,891.7 960.4,897.1 968.1,884.8 976.9,866.3" fill="none" stroke="#d8203c" stroke-width="1.4" stroke-linejoin="round"/>
<polyline points="20.5,850.7 30.6,871.2 40.1,891.7 55.9,909.1 65.4,912.9 74.9,916.1 84.4,913.8 92.2,909.1 97.0,902.2 106.5,894.9 115.9,886.4 123.8,883.8 131.7,874.4 139.6,871.2 146.9,871.2 153.9,885.4 163.3,902.8 172.8,915.4 182.3,920.2 194.9,918.6 207.6,915.4 215.5,912.3 223.4,902.8 232.8,893.3 239.2,889.5 247.1,889.5 255.0,879.1 264.4,868.0 272.3,855.4 280.2,852.2 289.7,845.3 297.6,841.2 305.5,841.2 315.0,843.4 322.9,849.1 330.8,857.0 339.6,864.9 348.2,863.3 356.1,863.9 364.0,867.4 371.9,885.4 381.3,883.8 389.2,882.2 397.1,888.6 400.0,891.7 405.7,899.6 412.6,904.4 430.0,904.4 437.9,894.9 445.8,869.6 455.3,842.8 463.2,835.8 471.1,841.2 479.0,841.8 487.8,845.3 496.4,837.1 504.3,833.9 512.2,828.5 520.1,829.5 529.5,826.3 537.4,826.3 545.3,835.8 554.8,857.0 562.7,878.1 572.2,893.3 580.1,907.5 588.0,917.0 595.9,926.5 604.7,924.9 611.7,909.1 621.2,894.9 629.1,884.8 637.0,886.4 644.9,881.3 652.8,875.9 662.2,863.3 670.1,855.4 678.0,842.8 685.9,844.3 693.8,847.5 700.2,855.4 709.6,875.9 719.1,896.5 728.6,908.5 742.8,907.5 752.3,913.2 761.1,919.2 769.7,910.7 777.6,907.5 780.0,908.6 785.8,909.7 801.1,918.6 808.8,915.5 818.4,911.6 828.0,896.3 837.6,880.9 847.2,871.3 858.7,861.7 870.2,854.1 877.9,854.8 885.6,861.7 895.2,879.0 910.5,899.4 920.1,893.2 927.8,891.7 935.5,884.8 945.1,896.3 952.0,899.4 960.4,892.5 968.1,859.8 976.9,846.4" fill="none" stroke="#1f3878" stroke-width="2.4" stroke-linejoin="round"/>
<rect x="21.0" y="812.5" width="349.0" height="17.5" fill="#fff"/>
<text x="113.6" y="827.0" font-size="13.5" textLength="142.0" lengthAdjust="spacingAndGlyphs">%K(14,3) %D(3)</text>
<text x="263.8" y="827.0" font-size="13.5" fill="#28478e" textLength="51.2" lengthAdjust="spacingAndGlyphs">78.09,</text>
<text x="323.0" y="827.0" font-size="13.5" fill="#d8203c" textLength="45.7" lengthAdjust="spacingAndGlyphs">58.32</text>
<rect x="19.9" y="54.0" width="1175.6" height="125.4" fill="none" stroke="#18234f" stroke-width="1.6"/>
<rect x="19.9" y="179.4" width="1175.6" height="358.6" fill="none" stroke="#18234f" stroke-width="1.6"/>
<rect x="19.9" y="559.5" width="1175.6" height="125.0" fill="none" stroke="#18234f" stroke-width="1.6"/>
<rect x="19.9" y="684.5" width="1175.6" height="126.5" fill="none" stroke="#18234f" stroke-width="1.6"/>
<rect x="19.9" y="811.0" width="1175.6" height="126.2" fill="none" stroke="#18234f" stroke-width="1.6"/>
<line x1="1195.5" y1="54.0" x2="1195.5" y2="538.0" stroke="#18234f" stroke-width="2.0"/>
<line x1="19.9" y1="54.0" x2="19.9" y2="538.0" stroke="#18234f" stroke-width="1.9"/>
<line x1="1195.5" y1="559.5" x2="1195.5" y2="937.2" stroke="#18234f" stroke-width="2.0"/>
<line x1="19.9" y1="559.5" x2="19.9" y2="937.2" stroke="#18234f" stroke-width="1.9"/>
<rect x="18.8" y="810.5" width="120.8" height="23.3" fill="#c8c8c8"/>
<text x="23.5" y="827.9" font-size="13" fill="#585858" textLength="112.2" lengthAdjust="spacingAndGlyphs">05 Apr Y:-0.3638</text>
<line x1="23.9" y1="538.8" x2="23.9" y2="541.0" stroke="#18234f" stroke-width="1"/>
<line x1="32.2" y1="538.8" x2="32.2" y2="541.0" stroke="#18234f" stroke-width="1"/>
<line x1="40.5" y1="538.8" x2="40.5" y2="541.0" stroke="#18234f" stroke-width="1"/>
<line x1="48.8" y1="538.8" x2="48.8" y2="541.0" stroke="#18234f" stroke-width="1"/>
<line x1="57.0" y1="538.8" x2="57.0" y2="542.8" stroke="#18234f" stroke-width="1"/>
<line x1="65.3" y1="538.8" x2="65.3" y2="541.0" stroke="#18234f" stroke-width="1"/>
<line x1="73.6" y1="538.8" x2="73.6" y2="541.0" stroke="#18234f" stroke-width="1"/>
<line x1="81.9" y1="538.8" x2="81.9" y2="541.0" stroke="#18234f" stroke-width="1"/>
<line x1="90.2" y1="538.8" x2="90.2" y2="541.0" stroke="#18234f" stroke-width="1"/>
<line x1="98.5" y1="538.8" x2="98.5" y2="542.8" stroke="#18234f" stroke-width="1"/>
<line x1="106.7" y1="538.8" x2="106.7" y2="541.0" stroke="#18234f" stroke-width="1"/>
<line x1="115.0" y1="538.8" x2="115.0" y2="541.0" stroke="#18234f" stroke-width="1"/>
<line x1="123.3" y1="538.8" x2="123.3" y2="541.0" stroke="#18234f" stroke-width="1"/>
<line x1="131.6" y1="538.8" x2="131.6" y2="541.0" stroke="#18234f" stroke-width="1"/>
<line x1="139.9" y1="538.8" x2="139.9" y2="542.8" stroke="#18234f" stroke-width="1"/>
<line x1="148.2" y1="538.8" x2="148.2" y2="541.0" stroke="#18234f" stroke-width="1"/>
<line x1="156.4" y1="538.8" x2="156.4" y2="541.0" stroke="#18234f" stroke-width="1"/>
<line x1="164.7" y1="538.8" x2="164.7" y2="541.0" stroke="#18234f" stroke-width="1"/>
<line x1="173.0" y1="538.8" x2="173.0" y2="541.0" stroke="#18234f" stroke-width="1"/>
<line x1="181.3" y1="538.8" x2="181.3" y2="542.8" stroke="#18234f" stroke-width="1"/>
<line x1="189.6" y1="538.8" x2="189.6" y2="541.0" stroke="#18234f" stroke-width="1"/>
<line x1="197.9" y1="538.8" x2="197.9" y2="541.0" stroke="#18234f" stroke-width="1"/>
<line x1="206.1" y1="538.8" x2="206.1" y2="541.0" stroke="#18234f" stroke-width="1"/>
<line x1="214.4" y1="538.8" x2="214.4" y2="541.0" stroke="#18234f" stroke-width="1"/>
<line x1="222.7" y1="538.8" x2="222.7" y2="542.8" stroke="#18234f" stroke-width="1"/>
<line x1="231.0" y1="538.8" x2="231.0" y2="541.0" stroke="#18234f" stroke-width="1"/>
<line x1="239.3" y1="538.8" x2="239.3" y2="541.0" stroke="#18234f" stroke-width="1"/>
<line x1="247.6" y1="538.8" x2="247.6" y2="541.0" stroke="#18234f" stroke-width="1"/>
<line x1="255.9" y1="538.8" x2="255.9" y2="541.0" stroke="#18234f" stroke-width="1"/>
<line x1="264.1" y1="538.8" x2="264.1" y2="542.8" stroke="#18234f" stroke-width="1"/>
<line x1="272.4" y1="538.8" x2="272.4" y2="541.0" stroke="#18234f" stroke-width="1"/>
<line x1="280.7" y1="538.8" x2="280.7" y2="541.0" stroke="#18234f" stroke-width="1"/>
<line x1="289.0" y1="538.8" x2="289.0" y2="541.0" stroke="#18234f" stroke-width="1"/>
<line x1="297.3" y1="538.8" x2="297.3" y2="541.0" stroke="#18234f" stroke-width="1"/>
<line x1="305.6" y1="538.8" x2="305.6" y2="542.8" stroke="#18234f" stroke-width="1"/>
<line x1="313.8" y1="538.8" x2="313.8" y2="541.0" stroke="#18234f" stroke-width="1"/>
<line x1="322.1" y1="538.8" x2="322.1" y2="541.0" stroke="#18234f" stroke-width="1"/>
<line x1="330.4" y1="538.8" x2="330.4" y2="541.0" stroke="#18234f" stroke-width="1"/>
<line x1="338.7" y1="538.8" x2="338.7" y2="541.0" stroke="#18234f" stroke-width="1"/>
<line x1="347.0" y1="538.8" x2="347.0" y2="542.8" stroke="#18234f" stroke-width="1"/>
<line x1="355.3" y1="538.8" x2="355.3" y2="541.0" stroke="#18234f" stroke-width="1"/>
<line x1="363.5" y1="538.8" x2="363.5" y2="542.8" stroke="#18234f" stroke-width="1"/>
<line x1="371.8" y1="538.8" x2="371.8" y2="541.0" stroke="#18234f" stroke-width="1"/>
<line x1="380.1" y1="538.8" x2="380.1" y2="541.0" stroke="#18234f" stroke-width="1"/>
<line x1="388.4" y1="538.8" x2="388.4" y2="542.8" stroke="#18234f" stroke-width="1"/>
<line x1="396.7" y1="538.8" x2="396.7" y2="541.0" stroke="#18234f" stroke-width="1"/>
<line x1="405.0" y1="538.8" x2="405.0" y2="541.0" stroke="#18234f" stroke-width="1"/>
<line x1="413.2" y1="538.8" x2="413.2" y2="541.0" stroke="#18234f" stroke-width="1"/>
<line x1="421.5" y1="538.8" x2="421.5" y2="541.0" stroke="#18234f" stroke-width="1"/>
<line x1="429.8" y1="538.8" x2="429.8" y2="542.8" stroke="#18234f" stroke-width="1"/>
<line x1="438.1" y1="538.8" x2="438.1" y2="541.0" stroke="#18234f" stroke-width="1"/>
<line x1="446.4" y1="538.8" x2="446.4" y2="541.0" stroke="#18234f" stroke-width="1"/>
<line x1="454.7" y1="538.8" x2="454.7" y2="541.0" stroke="#18234f" stroke-width="1"/>
<line x1="463.0" y1="538.8" x2="463.0" y2="541.0" stroke="#18234f" stroke-width="1"/>
<line x1="471.2" y1="538.8" x2="471.2" y2="542.8" stroke="#18234f" stroke-width="1"/>
<line x1="479.5" y1="538.8" x2="479.5" y2="541.0" stroke="#18234f" stroke-width="1"/>
<line x1="487.8" y1="538.8" x2="487.8" y2="541.0" stroke="#18234f" stroke-width="1"/>
<line x1="496.1" y1="538.8" x2="496.1" y2="541.0" stroke="#18234f" stroke-width="1"/>
<line x1="504.4" y1="538.8" x2="504.4" y2="542.8" stroke="#18234f" stroke-width="1"/>
<line x1="512.7" y1="538.8" x2="512.7" y2="541.0" stroke="#18234f" stroke-width="1"/>
<line x1="520.9" y1="538.8" x2="520.9" y2="541.0" stroke="#18234f" stroke-width="1"/>
<line x1="529.2" y1="538.8" x2="529.2" y2="541.0" stroke="#18234f" stroke-width="1"/>
<line x1="537.5" y1="538.8" x2="537.5" y2="542.8" stroke="#18234f" stroke-width="1"/>
<line x1="545.8" y1="538.8" x2="545.8" y2="542.8" stroke="#18234f" stroke-width="1"/>
<line x1="554.1" y1="538.8" x2="554.1" y2="541.0" stroke="#18234f" stroke-width="1"/>
<line x1="562.4" y1="538.8" x2="562.4" y2="541.0" stroke="#18234f" stroke-width="1"/>
<line x1="570.6" y1="538.8" x2="570.6" y2="541.0" stroke="#18234f" stroke-width="1"/>
<line x1="578.9" y1="538.8" x2="578.9" y2="541.0" stroke="#18234f" stroke-width="1"/>
<line x1="587.2" y1="538.8" x2="587.2" y2="542.8" stroke="#18234f" stroke-width="1"/>
<line x1="595.5" y1="538.8" x2="595.5" y2="541.0" stroke="#18234f" stroke-width="1"/>
<line x1="603.8" y1="538.8" x2="603.8" y2="541.0" stroke="#18234f" stroke-width="1"/>
<line x1="612.1" y1="538.8" x2="612.1" y2="541.0" stroke="#18234f" stroke-width="1"/>
<line x1="620.3" y1="538.8" x2="620.3" y2="541.0" stroke="#18234f" stroke-width="1"/>
<line x1="628.6" y1="538.8" x2="628.6" y2="542.8" stroke="#18234f" stroke-width="1"/>
<line x1="636.9" y1="538.8" x2="636.9" y2="541.0" stroke="#18234f" stroke-width="1"/>
<line x1="645.2" y1="538.8" x2="645.2" y2="541.0" stroke="#18234f" stroke-width="1"/>
<line x1="653.5" y1="538.8" x2="653.5" y2="541.0" stroke="#18234f" stroke-width="1"/>
<line x1="661.8" y1="538.8" x2="661.8" y2="541.0" stroke="#18234f" stroke-width="1"/>
<line x1="670.1" y1="538.8" x2="670.1" y2="542.8" stroke="#18234f" stroke-width="1"/>
<line x1="678.3" y1="538.8" x2="678.3" y2="541.0" stroke="#18234f" stroke-width="1"/>
<line x1="686.6" y1="538.8" x2="686.6" y2="541.0" stroke="#18234f" stroke-width="1"/>
<line x1="694.9" y1="538.8" x2="694.9" y2="541.0" stroke="#18234f" stroke-width="1"/>
<line x1="703.2" y1="538.8" x2="703.2" y2="542.8" stroke="#18234f" stroke-width="1"/>
<line x1="711.5" y1="538.8" x2="711.5" y2="541.0" stroke="#18234f" stroke-width="1"/>
<line x1="719.8" y1="538.8" x2="719.8" y2="541.0" stroke="#18234f" stroke-width="1"/>
<line x1="728.0" y1="538.8" x2="728.0" y2="541.0" stroke="#18234f" stroke-width="1"/>
<line x1="736.3" y1="538.8" x2="736.3" y2="542.8" stroke="#18234f" stroke-width="1"/>
<line x1="744.6" y1="538.8" x2="744.6" y2="541.0" stroke="#18234f" stroke-width="1"/>
<line x1="752.9" y1="538.8" x2="752.9" y2="541.0" stroke="#18234f" stroke-width="1"/>
<line x1="761.2" y1="538.8" x2="761.2" y2="541.0" stroke="#18234f" stroke-width="1"/>
<line x1="769.5" y1="538.8" x2="769.5" y2="541.0" stroke="#18234f" stroke-width="1"/>
<line x1="777.7" y1="538.8" x2="777.7" y2="542.8" stroke="#18234f" stroke-width="1"/>
<line x1="786.0" y1="538.8" x2="786.0" y2="541.0" stroke="#18234f" stroke-width="1"/>
<line x1="794.3" y1="538.8" x2="794.3" y2="541.0" stroke="#18234f" stroke-width="1"/>
<line x1="802.6" y1="538.8" x2="802.6" y2="541.0" stroke="#18234f" stroke-width="1"/>
<line x1="810.9" y1="538.8" x2="810.9" y2="542.8" stroke="#18234f" stroke-width="1"/>
<line x1="819.2" y1="538.8" x2="819.2" y2="541.0" stroke="#18234f" stroke-width="1"/>
<line x1="827.4" y1="538.8" x2="827.4" y2="541.0" stroke="#18234f" stroke-width="1"/>
<line x1="835.7" y1="538.8" x2="835.7" y2="541.0" stroke="#18234f" stroke-width="1"/>
<line x1="844.0" y1="538.8" x2="844.0" y2="541.0" stroke="#18234f" stroke-width="1"/>
<line x1="852.3" y1="538.8" x2="852.3" y2="542.8" stroke="#18234f" stroke-width="1"/>
<line x1="860.6" y1="538.8" x2="860.6" y2="541.0" stroke="#18234f" stroke-width="1"/>
<line x1="868.9" y1="538.8" x2="868.9" y2="541.0" stroke="#18234f" stroke-width="1"/>
<line x1="877.2" y1="538.8" x2="877.2" y2="542.8" stroke="#18234f" stroke-width="1"/>
<line x1="885.4" y1="538.8" x2="885.4" y2="541.0" stroke="#18234f" stroke-width="1"/>
<line x1="893.7" y1="538.8" x2="893.7" y2="542.8" stroke="#18234f" stroke-width="1"/>
<line x1="902.0" y1="538.8" x2="902.0" y2="541.0" stroke="#18234f" stroke-width="1"/>
<line x1="910.3" y1="538.8" x2="910.3" y2="541.0" stroke="#18234f" stroke-width="1"/>
<line x1="918.6" y1="538.8" x2="918.6" y2="541.0" stroke="#18234f" stroke-width="1"/>
<line x1="926.9" y1="538.8" x2="926.9" y2="541.0" stroke="#18234f" stroke-width="1"/>
<line x1="935.1" y1="538.8" x2="935.1" y2="542.8" stroke="#18234f" stroke-width="1"/>
<line x1="943.4" y1="538.8" x2="943.4" y2="541.0" stroke="#18234f" stroke-width="1"/>
<line x1="951.7" y1="538.8" x2="951.7" y2="541.0" stroke="#18234f" stroke-width="1"/>
<line x1="960.0" y1="538.8" x2="960.0" y2="541.0" stroke="#18234f" stroke-width="1"/>
<line x1="968.3" y1="538.8" x2="968.3" y2="541.0" stroke="#18234f" stroke-width="1"/>
<line x1="976.6" y1="538.8" x2="976.6" y2="542.8" stroke="#18234f" stroke-width="1"/>
<line x1="984.8" y1="538.8" x2="984.8" y2="541.0" stroke="#18234f" stroke-width="1"/>
<line x1="993.1" y1="538.8" x2="993.1" y2="541.0" stroke="#18234f" stroke-width="1"/>
<line x1="1001.4" y1="538.8" x2="1001.4" y2="541.0" stroke="#18234f" stroke-width="1"/>
<line x1="1009.7" y1="538.8" x2="1009.7" y2="542.8" stroke="#18234f" stroke-width="1"/>
<line x1="1018.0" y1="538.8" x2="1018.0" y2="541.0" stroke="#18234f" stroke-width="1"/>
<line x1="1026.3" y1="538.8" x2="1026.3" y2="541.0" stroke="#18234f" stroke-width="1"/>
<line x1="1034.5" y1="538.8" x2="1034.5" y2="541.0" stroke="#18234f" stroke-width="1"/>
<line x1="1042.8" y1="538.8" x2="1042.8" y2="542.8" stroke="#18234f" stroke-width="1"/>
<line x1="1051.1" y1="538.8" x2="1051.1" y2="542.8" stroke="#18234f" stroke-width="1"/>
<line x1="1059.4" y1="538.8" x2="1059.4" y2="541.0" stroke="#18234f" stroke-width="1"/>
<line x1="1067.7" y1="538.8" x2="1067.7" y2="541.0" stroke="#18234f" stroke-width="1"/>
<line x1="1076.0" y1="538.8" x2="1076.0" y2="541.0" stroke="#18234f" stroke-width="1"/>
<line x1="1084.3" y1="538.8" x2="1084.3" y2="541.0" stroke="#18234f" stroke-width="1"/>
<line x1="1092.5" y1="538.8" x2="1092.5" y2="542.8" stroke="#18234f" stroke-width="1"/>
<line x1="1100.8" y1="538.8" x2="1100.8" y2="541.0" stroke="#18234f" stroke-width="1"/>
<line x1="1109.1" y1="538.8" x2="1109.1" y2="541.0" stroke="#18234f" stroke-width="1"/>
<line x1="1117.4" y1="538.8" x2="1117.4" y2="541.0" stroke="#18234f" stroke-width="1"/>
<line x1="1125.7" y1="538.8" x2="1125.7" y2="541.0" stroke="#18234f" stroke-width="1"/>
<line x1="1134.0" y1="538.8" x2="1134.0" y2="542.8" stroke="#18234f" stroke-width="1"/>
<line x1="1142.2" y1="538.8" x2="1142.2" y2="541.0" stroke="#18234f" stroke-width="1"/>
<line x1="1150.5" y1="538.8" x2="1150.5" y2="541.0" stroke="#18234f" stroke-width="1"/>
<line x1="1158.8" y1="538.8" x2="1158.8" y2="541.0" stroke="#18234f" stroke-width="1"/>
<line x1="1167.1" y1="538.8" x2="1167.1" y2="541.0" stroke="#18234f" stroke-width="1"/>
<line x1="1175.4" y1="538.8" x2="1175.4" y2="542.8" stroke="#18234f" stroke-width="1"/>
<line x1="1183.7" y1="538.8" x2="1183.7" y2="541.0" stroke="#18234f" stroke-width="1"/>
<line x1="1191.9" y1="538.8" x2="1191.9" y2="541.0" stroke="#18234f" stroke-width="1"/>
<text x="49.2" y="553.6" font-size="14" textLength="15.7" lengthAdjust="spacingAndGlyphs">11</text>
<text x="90.0" y="553.6" font-size="14" textLength="16.8" lengthAdjust="spacingAndGlyphs">18</text>
<text x="131.5" y="553.6" font-size="14" textLength="16.8" lengthAdjust="spacingAndGlyphs">25</text>
<text x="218.5" y="553.6" font-size="14" textLength="8.4" lengthAdjust="spacingAndGlyphs">9</text>
<text x="255.7" y="553.6" font-size="14" textLength="16.8" lengthAdjust="spacingAndGlyphs">16</text>
<text x="297.1" y="553.6" font-size="14" textLength="16.8" lengthAdjust="spacingAndGlyphs">23</text>
<text x="384.2" y="553.6" font-size="14" textLength="8.4" lengthAdjust="spacingAndGlyphs">6</text>
<text x="421.4" y="553.6" font-size="14" textLength="16.8" lengthAdjust="spacingAndGlyphs">13</text>
<text x="462.8" y="553.6" font-size="14" textLength="16.8" lengthAdjust="spacingAndGlyphs">20</text>
<text x="496.0" y="553.6" font-size="14" textLength="16.8" lengthAdjust="spacingAndGlyphs">27</text>
<text x="579.4" y="553.6" font-size="14" textLength="15.7" lengthAdjust="spacingAndGlyphs">11</text>
<text x="620.2" y="553.6" font-size="14" textLength="16.8" lengthAdjust="spacingAndGlyphs">18</text>
<text x="661.6" y="553.6" font-size="14" textLength="16.8" lengthAdjust="spacingAndGlyphs">26</text>
<text x="732.1" y="553.6" font-size="14" textLength="8.4" lengthAdjust="spacingAndGlyphs">8</text>
<text x="769.3" y="553.6" font-size="14" textLength="16.8" lengthAdjust="spacingAndGlyphs">16</text>
<text x="802.5" y="553.6" font-size="14" textLength="16.8" lengthAdjust="spacingAndGlyphs">22</text>
<text x="843.9" y="553.6" font-size="14" textLength="16.8" lengthAdjust="spacingAndGlyphs">29</text>
<text x="926.7" y="553.6" font-size="14" textLength="16.8" lengthAdjust="spacingAndGlyphs">12</text>
<text x="968.2" y="553.6" font-size="14" textLength="16.8" lengthAdjust="spacingAndGlyphs">20</text>
<text x="1001.3" y="553.6" font-size="14" textLength="16.8" lengthAdjust="spacingAndGlyphs">26</text>
<text x="1084.7" y="553.6" font-size="14" textLength="15.7" lengthAdjust="spacingAndGlyphs">11</text>
<text x="1125.5" y="553.6" font-size="14" textLength="16.8" lengthAdjust="spacingAndGlyphs">18</text>
<text x="1167.0" y="553.6" font-size="14" textLength="16.8" lengthAdjust="spacingAndGlyphs">25</text>
<text x="168.7" y="553.6" font-size="14.5" font-weight="bold" textLength="25.1" lengthAdjust="spacingAndGlyphs">Oct</text>
<text x="349.3" y="553.6" font-size="14.5" font-weight="bold" textLength="28.5" lengthAdjust="spacingAndGlyphs">Nov</text>
<text x="523.7" y="553.6" font-size="14.5" font-weight="bold" textLength="27.7" lengthAdjust="spacingAndGlyphs">Dec</text>
<text x="686.4" y="553.6" font-size="14.5" font-weight="bold" textLength="33.5" lengthAdjust="spacingAndGlyphs">2024</text>
<text x="863.7" y="553.6" font-size="14.5" font-weight="bold" textLength="26.8" lengthAdjust="spacingAndGlyphs">Feb</text>
<text x="1029.4" y="553.6" font-size="14.5" font-weight="bold" textLength="26.8" lengthAdjust="spacingAndGlyphs">Mar</text>
<line x1="23.9" y1="937.8" x2="23.9" y2="940.0" stroke="#18234f" stroke-width="1"/>
<line x1="32.2" y1="937.8" x2="32.2" y2="940.0" stroke="#18234f" stroke-width="1"/>
<line x1="40.5" y1="937.8" x2="40.5" y2="940.0" stroke="#18234f" stroke-width="1"/>
<line x1="48.8" y1="937.8" x2="48.8" y2="940.0" stroke="#18234f" stroke-width="1"/>
<line x1="57.0" y1="937.8" x2="57.0" y2="941.8" stroke="#18234f" stroke-width="1"/>
<line x1="65.3" y1="937.8" x2="65.3" y2="940.0" stroke="#18234f" stroke-width="1"/>
<line x1="73.6" y1="937.8" x2="73.6" y2="940.0" stroke="#18234f" stroke-width="1"/>
<line x1="81.9" y1="937.8" x2="81.9" y2="940.0" stroke="#18234f" stroke-width="1"/>
<line x1="90.2" y1="937.8" x2="90.2" y2="940.0" stroke="#18234f" stroke-width="1"/>
<line x1="98.5" y1="937.8" x2="98.5" y2="941.8" stroke="#18234f" stroke-width="1"/>
<line x1="106.7" y1="937.8" x2="106.7" y2="940.0" stroke="#18234f" stroke-width="1"/>
<line x1="115.0" y1="937.8" x2="115.0" y2="940.0" stroke="#18234f" stroke-width="1"/>
<line x1="123.3" y1="937.8" x2="123.3" y2="940.0" stroke="#18234f" stroke-width="1"/>
<line x1="131.6" y1="937.8" x2="131.6" y2="940.0" stroke="#18234f" stroke-width="1"/>
<line x1="139.9" y1="937.8" x2="139.9" y2="941.8" stroke="#18234f" stroke-width="1"/>
<line x1="148.2" y1="937.8" x2="148.2" y2="940.0" stroke="#18234f" stroke-width="1"/>
<line x1="156.4" y1="937.8" x2="156.4" y2="940.0" stroke="#18234f" stroke-width="1"/>
<line x1="164.7" y1="937.8" x2="164.7" y2="940.0" stroke="#18234f" stroke-width="1"/>
<line x1="173.0" y1="937.8" x2="173.0" y2="940.0" stroke="#18234f" stroke-width="1"/>
<line x1="181.3" y1="937.8" x2="181.3" y2="941.8" stroke="#18234f" stroke-width="1"/>
<line x1="189.6" y1="937.8" x2="189.6" y2="940.0" stroke="#18234f" stroke-width="1"/>
<line x1="197.9" y1="937.8" x2="197.9" y2="940.0" stroke="#18234f" stroke-width="1"/>
<line x1="206.1" y1="937.8" x2="206.1" y2="940.0" stroke="#18234f" stroke-width="1"/>
<line x1="214.4" y1="937.8" x2="214.4" y2="940.0" stroke="#18234f" stroke-width="1"/>
<line x1="222.7" y1="937.8" x2="222.7" y2="941.8" stroke="#18234f" stroke-width="1"/>
<line x1="231.0" y1="937.8" x2="231.0" y2="940.0" stroke="#18234f" stroke-width="1"/>
<line x1="239.3" y1="937.8" x2="239.3" y2="940.0" stroke="#18234f" stroke-width="1"/>
<line x1="247.6" y1="937.8" x2="247.6" y2="940.0" stroke="#18234f" stroke-width="1"/>
<line x1="255.9" y1="937.8" x2="255.9" y2="940.0" stroke="#18234f" stroke-width="1"/>
<line x1="264.1" y1="937.8" x2="264.1" y2="941.8" stroke="#18234f" stroke-width="1"/>
<line x1="272.4" y1="937.8" x2="272.4" y2="940.0" stroke="#18234f" stroke-width="1"/>
<line x1="280.7" y1="937.8" x2="280.7" y2="940.0" stroke="#18234f" stroke-width="1"/>
<line x1="289.0" y1="937.8" x2="289.0" y2="940.0" stroke="#18234f" stroke-width="1"/>
<line x1="297.3" y1="937.8" x2="297.3" y2="940.0" stroke="#18234f" stroke-width="1"/>
<line x1="305.6" y1="937.8" x2="305.6" y2="941.8" stroke="#18234f" stroke-width="1"/>
<line x1="313.8" y1="937.8" x2="313.8" y2="940.0" stroke="#18234f" stroke-width="1"/>
<line x1="322.1" y1="937.8" x2="322.1" y2="940.0" stroke="#18234f" stroke-width="1"/>
<line x1="330.4" y1="937.8" x2="330.4" y2="940.0" stroke="#18234f" stroke-width="1"/>
<line x1="338.7" y1="937.8" x2="338.7" y2="940.0" stroke="#18234f" stroke-width="1"/>
<line x1="347.0" y1="937.8" x2="347.0" y2="941.8" stroke="#18234f" stroke-width="1"/>
<line x1="355.3" y1="937.8" x2="355.3" y2="940.0" stroke="#18234f" stroke-width="1"/>
<line x1="363.5" y1="937.8" x2="363.5" y2="941.8" stroke="#18234f" stroke-width="1"/>
<line x1="371.8" y1="937.8" x2="371.8" y2="940.0" stroke="#18234f" stroke-width="1"/>
<line x1="380.1" y1="937.8" x2="380.1" y2="940.0" stroke="#18234f" stroke-width="1"/>
<line x1="388.4" y1="937.8" x2="388.4" y2="941.8" stroke="#18234f" stroke-width="1"/>
<line x1="396.7" y1="937.8" x2="396.7" y2="940.0" stroke="#18234f" stroke-width="1"/>
<line x1="405.0" y1="937.8" x2="405.0" y2="940.0" stroke="#18234f" stroke-width="1"/>
<line x1="413.2" y1="937.8" x2="413.2" y2="940.0" stroke="#18234f" stroke-width="1"/>
<line x1="421.5" y1="937.8" x2="421.5" y2="940.0" stroke="#18234f" stroke-width="1"/>
<line x1="429.8" y1="937.8" x2="429.8" y2="941.8" stroke="#18234f" stroke-width="1"/>
<line x1="438.1" y1="937.8" x2="438.1" y2="940.0" stroke="#18234f" stroke-width="1"/>
<line x1="446.4" y1="937.8" x2="446.4" y2="940.0" stroke="#18234f" stroke-width="1"/>
<line x1="454.7" y1="937.8" x2="454.7" y2="940.0" stroke="#18234f" stroke-width="1"/>
<line x1="463.0" y1="937.8" x2="463.0" y2="940.0" stroke="#18234f" stroke-width="1"/>
<line x1="471.2" y1="937.8" x2="471.2" y2="941.8" stroke="#18234f" stroke-width="1"/>
<line x1="479.5" y1="937.8" x2="479.5" y2="940.0" stroke="#18234f" stroke-width="1"/>
<line x1="487.8" y1="937.8" x2="487.8" y2="940.0" stroke="#18234f" stroke-width="1"/>
<line x1="496.1" y1="937.8" x2="496.1" y2="940.0" stroke="#18234f" stroke-width="1"/>
<line x1="504.4" y1="937.8" x2="504.4" y2="941.8" stroke="#18234f" stroke-width="1"/>
<line x1="512.7" y1="937.8" x2="512.7" y2="940.0" stroke="#18234f" stroke-width="1"/>
<line x1="520.9" y1="937.8" x2="520.9" y2="940.0" stroke="#18234f" stroke-width="1"/>
<line x1="529.2" y1="937.8" x2="529.2" y2="940.0" stroke="#18234f" stroke-width="1"/>
<line x1="537.5" y1="937.8" x2="537.5" y2="941.8" stroke="#18234f" stroke-width="1"/>
<line x1="545.8" y1="937.8" x2="545.8" y2="941.8" stroke="#18234f" stroke-width="1"/>
<line x1="554.1" y1="937.8" x2="554.1" y2="940.0" stroke="#18234f" stroke-width="1"/>
<line x1="562.4" y1="937.8" x2="562.4" y2="940.0" stroke="#18234f" stroke-width="1"/>
<line x1="570.6" y1="937.8" x2="570.6" y2="940.0" stroke="#18234f" stroke-width="1"/>
<line x1="578.9" y1="937.8" x2="578.9" y2="940.0" stroke="#18234f" stroke-width="1"/>
<line x1="587.2" y1="937.8" x2="587.2" y2="941.8" stroke="#18234f" stroke-width="1"/>
<line x1="595.5" y1="937.8" x2="595.5" y2="940.0" stroke="#18234f" stroke-width="1"/>
<line x1="603.8" y1="937.8" x2="603.8" y2="940.0" stroke="#18234f" stroke-width="1"/>
<line x1="612.1" y1="937.8" x2="612.1" y2="940.0" stroke="#18234f" stroke-width="1"/>
<line x1="620.3" y1="937.8" x2="620.3" y2="940.0" stroke="#18234f" stroke-width="1"/>
<line x1="628.6" y1="937.8" x2="628.6" y2="941.8" stroke="#18234f" stroke-width="1"/>
<line x1="636.9" y1="937.8" x2="636.9" y2="940.0" stroke="#18234f" stroke-width="1"/>
<line x1="645.2" y1="937.8" x2="645.2" y2="940.0" stroke="#18234f" stroke-width="1"/>
<line x1="653.5" y1="937.8" x2="653.5" y2="940.0" stroke="#18234f" stroke-width="1"/>
<line x1="661.8" y1="937.8" x2="661.8" y2="940.0" stroke="#18234f" stroke-width="1"/>
<line x1="670.1" y1="937.8" x2="670.1" y2="941.8" stroke="#18234f" stroke-width="1"/>
<line x1="678.3" y1="937.8" x2="678.3" y2="940.0" stroke="#18234f" stroke-width="1"/>
<line x1="686.6" y1="937.8" x2="686.6" y2="940.0" stroke="#18234f" stroke-width="1"/>
<line x1="694.9" y1="937.8" x2="694.9" y2="940.0" stroke="#18234f" stroke-width="1"/>
<line x1="703.2" y1="937.8" x2="703.2" y2="941.8" stroke="#18234f" stroke-width="1"/>
<line x1="711.5" y1="937.8" x2="711.5" y2="940.0" stroke="#18234f" stroke-width="1"/>
<line x1="719.8" y1="937.8" x2="719.8" y2="940.0" stroke="#18234f" stroke-width="1"/>
<line x1="728.0" y1="937.8" x2="728.0" y2="940.0" stroke="#18234f" stroke-width="1"/>
<line x1="736.3" y1="937.8" x2="736.3" y2="941.8" stroke="#18234f" stroke-width="1"/>
<line x1="744.6" y1="937.8" x2="744.6" y2="940.0" stroke="#18234f" stroke-width="1"/>
<line x1="752.9" y1="937.8" x2="752.9" y2="940.0" stroke="#18234f" stroke-width="1"/>
<line x1="761.2" y1="937.8" x2="761.2" y2="940.0" stroke="#18234f" stroke-width="1"/>
<line x1="769.5" y1="937.8" x2="769.5" y2="940.0" stroke="#18234f" stroke-width="1"/>
<line x1="777.7" y1="937.8" x2="777.7" y2="941.8" stroke="#18234f" stroke-width="1"/>
<line x1="786.0" y1="937.8" x2="786.0" y2="940.0" stroke="#18234f" stroke-width="1"/>
<line x1="794.3" y1="937.8" x2="794.3" y2="940.0" stroke="#18234f" stroke-width="1"/>
<line x1="802.6" y1="937.8" x2="802.6" y2="940.0" stroke="#18234f" stroke-width="1"/>
<line x1="810.9" y1="937.8" x2="810.9" y2="941.8" stroke="#18234f" stroke-width="1"/>
<line x1="819.2" y1="937.8" x2="819.2" y2="940.0" stroke="#18234f" stroke-width="1"/>
<line x1="827.4" y1="937.8" x2="827.4" y2="940.0" stroke="#18234f" stroke-width="1"/>
<line x1="835.7" y1="937.8" x2="835.7" y2="940.0" stroke="#18234f" stroke-width="1"/>
<line x1="844.0" y1="937.8" x2="844.0" y2="940.0" stroke="#18234f" stroke-width="1"/>
<line x1="852.3" y1="937.8" x2="852.3" y2="941.8" stroke="#18234f" stroke-width="1"/>
<line x1="860.6" y1="937.8" x2="860.6" y2="940.0" stroke="#18234f" stroke-width="1"/>
<line x1="868.9" y1="937.8" x2="868.9" y2="940.0" stroke="#18234f" stroke-width="1"/>
<line x1="877.2" y1="937.8" x2="877.2" y2="941.8" stroke="#18234f" stroke-width="1"/>
<line x1="885.4" y1="937.8" x2="885.4" y2="940.0" stroke="#18234f" stroke-width="1"/>
<line x1="893.7" y1="937.8" x2="893.7" y2="941.8" stroke="#18234f" stroke-width="1"/>
<line x1="902.0" y1="937.8" x2="902.0" y2="940.0" stroke="#18234f" stroke-width="1"/>
<line x1="910.3" y1="937.8" x2="910.3" y2="940.0" stroke="#18234f" stroke-width="1"/>
<line x1="918.6" y1="937.8" x2="918.6" y2="940.0" stroke="#18234f" stroke-width="1"/>
<line x1="926.9" y1="937.8" x2="926.9" y2="940.0" stroke="#18234f" stroke-width="1"/>
<line x1="935.1" y1="937.8" x2="935.1" y2="941.8" stroke="#18234f" stroke-width="1"/>
<line x1="943.4" y1="937.8" x2="943.4" y2="940.0" stroke="#18234f" stroke-width="1"/>
<line x1="951.7" y1="937.8" x2="951.7" y2="940.0" stroke="#18234f" stroke-width="1"/>
<line x1="960.0" y1="937.8" x2="960.0" y2="940.0" stroke="#18234f" stroke-width="1"/>
<line x1="968.3" y1="937.8" x2="968.3" y2="940.0" stroke="#18234f" stroke-width="1"/>
<line x1="976.6" y1="937.8" x2="976.6" y2="941.8" stroke="#18234f" stroke-width="1"/>
<line x1="984.8" y1="937.8" x2="984.8" y2="940.0" stroke="#18234f" stroke-width="1"/>
<line x1="993.1" y1="937.8" x2="993.1" y2="940.0" stroke="#18234f" stroke-width="1"/>
<line x1="1001.4" y1="937.8" x2="1001.4" y2="940.0" stroke="#18234f" stroke-width="1"/>
<line x1="1009.7" y1="937.8" x2="1009.7" y2="941.8" stroke="#18234f" stroke-width="1"/>
<line x1="1018.0" y1="937.8" x2="1018.0" y2="940.0" stroke="#18234f" stroke-width="1"/>
<line x1="1026.3" y1="937.8" x2="1026.3" y2="940.0" stroke="#18234f" stroke-width="1"/>
<line x1="1034.5" y1="937.8" x2="1034.5" y2="940.0" stroke="#18234f" stroke-width="1"/>
<line x1="1042.8" y1="937.8" x2="1042.8" y2="941.8" stroke="#18234f" stroke-width="1"/>
<line x1="1051.1" y1="937.8" x2="1051.1" y2="941.8" stroke="#18234f" stroke-width="1"/>
<line x1="1059.4" y1="937.8" x2="1059.4" y2="940.0" stroke="#18234f" stroke-width="1"/>
<line x1="1067.7" y1="937.8" x2="1067.7" y2="940.0" stroke="#18234f" stroke-width="1"/>
<line x1="1076.0" y1="937.8" x2="1076.0" y2="940.0" stroke="#18234f" stroke-width="1"/>
<line x1="1084.3" y1="937.8" x2="1084.3" y2="940.0" stroke="#18234f" stroke-width="1"/>
<line x1="1092.5" y1="937.8" x2="1092.5" y2="941.8" stroke="#18234f" stroke-width="1"/>
<line x1="1100.8" y1="937.8" x2="1100.8" y2="940.0" stroke="#18234f" stroke-width="1"/>
<line x1="1109.1" y1="937.8" x2="1109.1" y2="940.0" stroke="#18234f" stroke-width="1"/>
<line x1="1117.4" y1="937.8" x2="1117.4" y2="940.0" stroke="#18234f" stroke-width="1"/>
<line x1="1125.7" y1="937.8" x2="1125.7" y2="940.0" stroke="#18234f" stroke-width="1"/>
<line x1="1134.0" y1="937.8" x2="1134.0" y2="941.8" stroke="#18234f" stroke-width="1"/>
<line x1="1142.2" y1="937.8" x2="1142.2" y2="940.0" stroke="#18234f" stroke-width="1"/>
<line x1="1150.5" y1="937.8" x2="1150.5" y2="940.0" stroke="#18234f" stroke-width="1"/>
<line x1="1158.8" y1="937.8" x2="1158.8" y2="940.0" stroke="#18234f" stroke-width="1"/>
<line x1="1167.1" y1="937.8" x2="1167.1" y2="940.0" stroke="#18234f" stroke-width="1"/>
<line x1="1175.4" y1="937.8" x2="1175.4" y2="941.8" stroke="#18234f" stroke-width="1"/>
<line x1="1183.7" y1="937.8" x2="1183.7" y2="940.0" stroke="#18234f" stroke-width="1"/>
<line x1="1191.9" y1="937.8" x2="1191.9" y2="940.0" stroke="#18234f" stroke-width="1"/>
<text x="49.2" y="951.2" font-size="14" textLength="15.7" lengthAdjust="spacingAndGlyphs">11</text>
<text x="90.0" y="951.2" font-size="14" textLength="16.8" lengthAdjust="spacingAndGlyphs">18</text>
<text x="131.5" y="951.2" font-size="14" textLength="16.8" lengthAdjust="spacingAndGlyphs">25</text>
<text x="218.5" y="951.2" font-size="14" textLength="8.4" lengthAdjust="spacingAndGlyphs">9</text>
<text x="255.7" y="951.2" font-size="14" textLength="16.8" lengthAdjust="spacingAndGlyphs">16</text>
<text x="297.1" y="951.2" font-size="14" textLength="16.8" lengthAdjust="spacingAndGlyphs">23</text>
<text x="384.2" y="951.2" font-size="14" textLength="8.4" lengthAdjust="spacingAndGlyphs">6</text>
<text x="421.4" y="951.2" font-size="14" textLength="16.8" lengthAdjust="spacingAndGlyphs">13</text>
<text x="462.8" y="951.2" font-size="14" textLength="16.8" lengthAdjust="spacingAndGlyphs">20</text>
<text x="496.0" y="951.2" font-size="14" textLength="16.8" lengthAdjust="spacingAndGlyphs">27</text>
<text x="579.4" y="951.2" font-size="14" textLength="15.7" lengthAdjust="spacingAndGlyphs">11</text>
<text x="620.2" y="951.2" font-size="14" textLength="16.8" lengthAdjust="spacingAndGlyphs">18</text>
<text x="661.6" y="951.2" font-size="14" textLength="16.8" lengthAdjust="spacingAndGlyphs">26</text>
<text x="732.1" y="951.2" font-size="14" textLength="8.4" lengthAdjust="spacingAndGlyphs">8</text>
<text x="769.3" y="951.2" font-size="14" textLength="16.8" lengthAdjust="spacingAndGlyphs">16</text>
<text x="802.5" y="951.2" font-size="14" textLength="16.8" lengthAdjust="spacingAndGlyphs">22</text>
<text x="843.9" y="951.2" font-size="14" textLength="16.8" lengthAdjust="spacingAndGlyphs">29</text>
<text x="926.7" y="951.2" font-size="14" textLength="16.8" lengthAdjust="spacingAndGlyphs">12</text>
<text x="968.2" y="951.2" font-size="14" textLength="16.8" lengthAdjust="spacingAndGlyphs">20</text>
<text x="1001.3" y="951.2" font-size="14" textLength="16.8" lengthAdjust="spacingAndGlyphs">26</text>
<text x="1084.7" y="951.2" font-size="14" textLength="15.7" lengthAdjust="spacingAndGlyphs">11</text>
<text x="1125.5" y="951.2" font-size="14" textLength="16.8" lengthAdjust="spacingAndGlyphs">18</text>
<text x="1167.0" y="951.2" font-size="14" textLength="16.8" lengthAdjust="spacingAndGlyphs">25</text>
<text x="168.7" y="951.2" font-size="14.5" font-weight="bold" textLength="25.1" lengthAdjust="spacingAndGlyphs">Oct</text>
<text x="349.3" y="951.2" font-size="14.5" font-weight="bold" textLength="28.5" lengthAdjust="spacingAndGlyphs">Nov</text>
<text x="523.7" y="951.2" font-size="14.5" font-weight="bold" textLength="27.7" lengthAdjust="spacingAndGlyphs">Dec</text>
<text x="686.4" y="951.2" font-size="14.5" font-weight="bold" textLength="33.5" lengthAdjust="spacingAndGlyphs">2024</text>
<text x="863.7" y="951.2" font-size="14.5" font-weight="bold" textLength="26.8" lengthAdjust="spacingAndGlyphs">Feb</text>
<text x="1029.4" y="951.2" font-size="14.5" font-weight="bold" textLength="26.8" lengthAdjust="spacingAndGlyphs">Mar</text>
<line x1="23.9" y1="559.5" x2="23.9" y2="557.5" stroke="#18234f" stroke-width="1"/>
<line x1="32.2" y1="559.5" x2="32.2" y2="557.5" stroke="#18234f" stroke-width="1"/>
<line x1="40.5" y1="559.5" x2="40.5" y2="557.5" stroke="#18234f" stroke-width="1"/>
<line x1="48.8" y1="559.5" x2="48.8" y2="557.5" stroke="#18234f" stroke-width="1"/>
<line x1="57.0" y1="559.5" x2="57.0" y2="556.0" stroke="#18234f" stroke-width="1"/>
<line x1="65.3" y1="559.5" x2="65.3" y2="557.5" stroke="#18234f" stroke-width="1"/>
<line x1="73.6" y1="559.5" x2="73.6" y2="557.5" stroke="#18234f" stroke-width="1"/>
<line x1="81.9" y1="559.5" x2="81.9" y2="557.5" stroke="#18234f" stroke-width="1"/>
<line x1="90.2" y1="559.5" x2="90.2" y2="557.5" stroke="#18234f" stroke-width="1"/>
<line x1="98.5" y1="559.5" x2="98.5" y2="556.0" stroke="#18234f" stroke-width="1"/>
<line x1="106.7" y1="559.5" x2="106.7" y2="557.5" stroke="#18234f" stroke-width="1"/>
<line x1="115.0" y1="559.5" x2="115.0" y2="557.5" stroke="#18234f" stroke-width="1"/>
<line x1="123.3" y1="559.5" x2="123.3" y2="557.5" stroke="#18234f" stroke-width="1"/>
<line x1="131.6" y1="559.5" x2="131.6" y2="557.5" stroke="#18234f" stroke-width="1"/>
<line x1="139.9" y1="559.5" x2="139.9" y2="556.0" stroke="#18234f" stroke-width="1"/>
<line x1="148.2" y1="559.5" x2="148.2" y2="557.5" stroke="#18234f" stroke-width="1"/>
<line x1="156.4" y1="559.5" x2="156.4" y2="557.5" stroke="#18234f" stroke-width="1"/>
<line x1="164.7" y1="559.5" x2="164.7" y2="557.5" stroke="#18234f" stroke-width="1"/>
<line x1="173.0" y1="559.5" x2="173.0" y2="557.5" stroke="#18234f" stroke-width="1"/>
<line x1="181.3" y1="559.5" x2="181.3" y2="556.0" stroke="#18234f" stroke-width="1"/>
<line x1="189.6" y1="559.5" x2="189.6" y2="557.5" stroke="#18234f" stroke-width="1"/>
<line x1="197.9" y1="559.5" x2="197.9" y2="557.5" stroke="#18234f" stroke-width="1"/>
<line x1="206.1" y1="559.5" x2="206.1" y2="557.5" stroke="#18234f" stroke-width="1"/>
<line x1="214.4" y1="559.5" x2="214.4" y2="557.5" stroke="#18234f" stroke-width="1"/>
<line x1="222.7" y1="559.5" x2="222.7" y2="556.0" stroke="#18234f" stroke-width="1"/>
<line x1="231.0" y1="559.5" x2="231.0" y2="557.5" stroke="#18234f" stroke-width="1"/>
<line x1="239.3" y1="559.5" x2="239.3" y2="557.5" stroke="#18234f" stroke-width="1"/>
<line x1="247.6" y1="559.5" x2="247.6" y2="557.5" stroke="#18234f" stroke-width="1"/>
<line x1="255.9" y1="559.5" x2="255.9" y2="557.5" stroke="#18234f" stroke-width="1"/>
<line x1="264.1" y1="559.5" x2="264.1" y2="556.0" stroke="#18234f" stroke-width="1"/>
<line x1="272.4" y1="559.5" x2="272.4" y2="557.5" stroke="#18234f" stroke-width="1"/>
<line x1="280.7" y1="559.5" x2="280.7" y2="557.5" stroke="#18234f" stroke-width="1"/>
<line x1="289.0" y1="559.5" x2="289.0" y2="557.5" stroke="#18234f" stroke-width="1"/>
<line x1="297.3" y1="559.5" x2="297.3" y2="557.5" stroke="#18234f" stroke-width="1"/>
<line x1="305.6" y1="559.5" x2="305.6" y2="556.0" stroke="#18234f" stroke-width="1"/>
<line x1="313.8" y1="559.5" x2="313.8" y2="557.5" stroke="#18234f" stroke-width="1"/>
<line x1="322.1" y1="559.5" x2="322.1" y2="557.5" stroke="#18234f" stroke-width="1"/>
<line x1="330.4" y1="559.5" x2="330.4" y2="557.5" stroke="#18234f" stroke-width="1"/>
<line x1="338.7" y1="559.5" x2="338.7" y2="557.5" stroke="#18234f" stroke-width="1"/>
<line x1="347.0" y1="559.5" x2="347.0" y2="556.0" stroke="#18234f" stroke-width="1"/>
<line x1="355.3" y1="559.5" x2="355.3" y2="557.5" stroke="#18234f" stroke-width="1"/>
<line x1="363.5" y1="559.5" x2="363.5" y2="556.0" stroke="#18234f" stroke-width="1"/>
<line x1="371.8" y1="559.5" x2="371.8" y2="557.5" stroke="#18234f" stroke-width="1"/>
<line x1="380.1" y1="559.5" x2="380.1" y2="557.5" stroke="#18234f" stroke-width="1"/>
<line x1="388.4" y1="559.5" x2="388.4" y2="556.0" stroke="#18234f" stroke-width="1"/>
<line x1="396.7" y1="559.5" x2="396.7" y2="557.5" stroke="#18234f" stroke-width="1"/>
<line x1="405.0" y1="559.5" x2="405.0" y2="557.5" stroke="#18234f" stroke-width="1"/>
<line x1="413.2" y1="559.5" x2="413.2" y2="557.5" stroke="#18234f" stroke-width="1"/>
<line x1="421.5" y1="559.5" x2="421.5" y2="557.5" stroke="#18234f" stroke-width="1"/>
<line x1="429.8" y1="559.5" x2="429.8" y2="556.0" stroke="#18234f" stroke-width="1"/>
<line x1="438.1" y1="559.5" x2="438.1" y2="557.5" stroke="#18234f" stroke-width="1"/>
<line x1="446.4" y1="559.5" x2="446.4" y2="557.5" stroke="#18234f" stroke-width="1"/>
<line x1="454.7" y1="559.5" x2="454.7" y2="557.5" stroke="#18234f" stroke-width="1"/>
<line x1="463.0" y1="559.5" x2="463.0" y2="557.5" stroke="#18234f" stroke-width="1"/>
<line x1="471.2" y1="559.5" x2="471.2" y2="556.0" stroke="#18234f" stroke-width="1"/>
<line x1="479.5" y1="559.5" x2="479.5" y2="557.5" stroke="#18234f" stroke-width="1"/>
<line x1="487.8" y1="559.5" x2="487.8" y2="557.5" stroke="#18234f" stroke-width="1"/>
<line x1="496.1" y1="559.5" x2="496.1" y2="557.5" stroke="#18234f" stroke-width="1"/>
<line x1="504.4" y1="559.5" x2="504.4" y2="556.0" stroke="#18234f" stroke-width="1"/>
<line x1="512.7" y1="559.5" x2="512.7" y2="557.5" stroke="#18234f" stroke-width="1"/>
<line x1="520.9" y1="559.5" x2="520.9" y2="557.5" stroke="#18234f" stroke-width="1"/>
<line x1="529.2" y1="559.5" x2="529.2" y2="557.5" stroke="#18234f" stroke-width="1"/>
<line x1="537.5" y1="559.5" x2="537.5" y2="556.0" stroke="#18234f" stroke-width="1"/>
<line x1="545.8" y1="559.5" x2="545.8" y2="556.0" stroke="#18234f" stroke-width="1"/>
<line x1="554.1" y1="559.5" x2="554.1" y2="557.5" stroke="#18234f" stroke-width="1"/>
<line x1="562.4" y1="559.5" x2="562.4" y2="557.5" stroke="#18234f" stroke-width="1"/>
<line x1="570.6" y1="559.5" x2="570.6" y2="557.5" stroke="#18234f" stroke-width="1"/>
<line x1="578.9" y1="559.5" x2="578.9" y2="557.5" stroke="#18234f" stroke-width="1"/>
<line x1="587.2" y1="559.5" x2="587.2" y2="556.0" stroke="#18234f" stroke-width="1"/>
<line x1="595.5" y1="559.5" x2="595.5" y2="557.5" stroke="#18234f" stroke-width="1"/>
<line x1="603.8" y1="559.5" x2="603.8" y2="557.5" stroke="#18234f" stroke-width="1"/>
<line x1="612.1" y1="559.5" x2="612.1" y2="557.5" stroke="#18234f" stroke-width="1"/>
<line x1="620.3" y1="559.5" x2="620.3" y2="557.5" stroke="#18234f" stroke-width="1"/>
<line x1="628.6" y1="559.5" x2="628.6" y2="556.0" stroke="#18234f" stroke-width="1"/>
<line x1="636.9" y1="559.5" x2="636.9" y2="557.5" stroke="#18234f" stroke-width="1"/>
<line x1="645.2" y1="559.5" x2="645.2" y2="557.5" stroke="#18234f" stroke-width="1"/>
<line x1="653.5" y1="559.5" x2="653.5" y2="557.5" stroke="#18234f" stroke-width="1"/>
<line x1="661.8" y1="559.5" x2="661.8" y2="557.5" stroke="#18234f" stroke-width="1"/>
<line x1="670.1" y1="559.5" x2="670.1" y2="556.0" stroke="#18234f" stroke-width="1"/>
<line x1="678.3" y1="559.5" x2="678.3" y2="557.5" stroke="#18234f" stroke-width="1"/>
<line x1="686.6" y1="559.5" x2="686.6" y2="557.5" stroke="#18234f" stroke-width="1"/>
<line x1="694.9" y1="559.5" x2="694.9" y2="557.5" stroke="#18234f" stroke-width="1"/>
<line x1="703.2" y1="559.5" x2="703.2" y2="556.0" stroke="#18234f" stroke-width="1"/>
<line x1="711.5" y1="559.5" x2="711.5" y2="557.5" stroke="#18234f" stroke-width="1"/>
<line x1="719.8" y1="559.5" x2="719.8" y2="557.5" stroke="#18234f" stroke-width="1"/>
<line x1="728.0" y1="559.5" x2="728.0" y2="557.5" stroke="#18234f" stroke-width="1"/>
<line x1="736.3" y1="559.5" x2="736.3" y2="556.0" stroke="#18234f" stroke-width="1"/>
<line x1="744.6" y1="559.5" x2="744.6" y2="557.5" stroke="#18234f" stroke-width="1"/>
<line x1="752.9" y1="559.5" x2="752.9" y2="557.5" stroke="#18234f" stroke-width="1"/>
<line x1="761.2" y1="559.5" x2="761.2" y2="557.5" stroke="#18234f" stroke-width="1"/>
<line x1="769.5" y1="559.5" x2="769.5" y2="557.5" stroke="#18234f" stroke-width="1"/>
<line x1="777.7" y1="559.5" x2="777.7" y2="556.0" stroke="#18234f" stroke-width="1"/>
<line x1="786.0" y1="559.5" x2="786.0" y2="557.5" stroke="#18234f" stroke-width="1"/>
<line x1="794.3" y1="559.5" x2="794.3" y2="557.5" stroke="#18234f" stroke-width="1"/>
<line x1="802.6" y1="559.5" x2="802.6" y2="557.5" stroke="#18234f" stroke-width="1"/>
<line x1="810.9" y1="559.5" x2="810.9" y2="556.0" stroke="#18234f" stroke-width="1"/>
<line x1="819.2" y1="559.5" x2="819.2" y2="557.5" stroke="#18234f" stroke-width="1"/>
<line x1="827.4" y1="559.5" x2="827.4" y2="557.5" stroke="#18234f" stroke-width="1"/>
<line x1="835.7" y1="559.5" x2="835.7" y2="557.5" stroke="#18234f" stroke-width="1"/>
<line x1="844.0" y1="559.5" x2="844.0" y2="557.5" stroke="#18234f" stroke-width="1"/>
<line x1="852.3" y1="559.5" x2="852.3" y2="556.0" stroke="#18234f" stroke-width="1"/>
<line x1="860.6" y1="559.5" x2="860.6" y2="557.5" stroke="#18234f" stroke-width="1"/>
<line x1="868.9" y1="559.5" x2="868.9" y2="557.5" stroke="#18234f" stroke-width="1"/>
<line x1="877.2" y1="559.5" x2="877.2" y2="556.0" stroke="#18234f" stroke-width="1"/>
<line x1="885.4" y1="559.5" x2="885.4" y2="557.5" stroke="#18234f" stroke-width="1"/>
<line x1="893.7" y1="559.5" x2="893.7" y2="556.0" stroke="#18234f" stroke-width="1"/>
<line x1="902.0" y1="559.5" x2="902.0" y2="557.5" stroke="#18234f" stroke-width="1"/>
<line x1="910.3" y1="559.5" x2="910.3" y2="557.5" stroke="#18234f" stroke-width="1"/>
<line x1="918.6" y1="559.5" x2="918.6" y2="557.5" stroke="#18234f" stroke-width="1"/>
<line x1="926.9" y1="559.5" x2="926.9" y2="557.5" stroke="#18234f" stroke-width="1"/>
<line x1="935.1" y1="559.5" x2="935.1" y2="556.0" stroke="#18234f" stroke-width="1"/>
<line x1="943.4" y1="559.5" x2="943.4" y2="557.5" stroke="#18234f" stroke-width="1"/>
<line x1="951.7" y1="559.5" x2="951.7" y2="557.5" stroke="#18234f" stroke-width="1"/>
<line x1="960.0" y1="559.5" x2="960.0" y2="557.5" stroke="#18234f" stroke-width="1"/>
<line x1="968.3" y1="559.5" x2="968.3" y2="557.5" stroke="#18234f" stroke-width="1"/>
<line x1="976.6" y1="559.5" x2="976.6" y2="556.0" stroke="#18234f" stroke-width="1"/>
<line x1="984.8" y1="559.5" x2="984.8" y2="557.5" stroke="#18234f" stroke-width="1"/>
<line x1="993.1" y1="559.5" x2="993.1" y2="557.5" stroke="#18234f" stroke-width="1"/>
<line x1="1001.4" y1="559.5" x2="1001.4" y2="557.5" stroke="#18234f" stroke-width="1"/>
<line x1="1009.7" y1="559.5" x2="1009.7" y2="556.0" stroke="#18234f" stroke-width="1"/>
<line x1="1018.0" y1="559.5" x2="1018.0" y2="557.5" stroke="#18234f" stroke-width="1"/>
<line x1="1026.3" y1="559.5" x2="1026.3" y2="557.5" stroke="#18234f" stroke-width="1"/>
<line x1="1034.5" y1="559.5" x2="1034.5" y2="557.5" stroke="#18234f" stroke-width="1"/>
<line x1="1042.8" y1="559.5" x2="1042.8" y2="556.0" stroke="#18234f" stroke-width="1"/>
<line x1="1051.1" y1="559.5" x2="1051.1" y2="556.0" stroke="#18234f" stroke-width="1"/>
<line x1="1059.4" y1="559.5" x2="1059.4" y2="557.5" stroke="#18234f" stroke-width="1"/>
<line x1="1067.7" y1="559.5" x2="1067.7" y2="557.5" stroke="#18234f" stroke-width="1"/>
<line x1="1076.0" y1="559.5" x2="1076.0" y2="557.5" stroke="#18234f" stroke-width="1"/>
<line x1="1084.3" y1="559.5" x2="1084.3" y2="557.5" stroke="#18234f" stroke-width="1"/>
<line x1="1092.5" y1="559.5" x2="1092.5" y2="556.0" stroke="#18234f" stroke-width="1"/>
<line x1="1100.8" y1="559.5" x2="1100.8" y2="557.5" stroke="#18234f" stroke-width="1"/>
<line x1="1109.1" y1="559.5" x2="1109.1" y2="557.5" stroke="#18234f" stroke-width="1"/>
<line x1="1117.4" y1="559.5" x2="1117.4" y2="557.5" stroke="#18234f" stroke-width="1"/>
<line x1="1125.7" y1="559.5" x2="1125.7" y2="557.5" stroke="#18234f" stroke-width="1"/>
<line x1="1134.0" y1="559.5" x2="1134.0" y2="556.0" stroke="#18234f" stroke-width="1"/>
<line x1="1142.2" y1="559.5" x2="1142.2" y2="557.5" stroke="#18234f" stroke-width="1"/>
<line x1="1150.5" y1="559.5" x2="1150.5" y2="557.5" stroke="#18234f" stroke-width="1"/>
<line x1="1158.8" y1="559.5" x2="1158.8" y2="557.5" stroke="#18234f" stroke-width="1"/>
<line x1="1167.1" y1="559.5" x2="1167.1" y2="557.5" stroke="#18234f" stroke-width="1"/>
<line x1="1175.4" y1="559.5" x2="1175.4" y2="556.0" stroke="#18234f" stroke-width="1"/>
<line x1="1183.7" y1="559.5" x2="1183.7" y2="557.5" stroke="#18234f" stroke-width="1"/>
<line x1="1191.9" y1="559.5" x2="1191.9" y2="557.5" stroke="#18234f" stroke-width="1"/>
<line x1="1195.5" y1="74.4" x2="1199.5" y2="74.4" stroke="#18234f" stroke-width="1"/>
<text x="1199.6" y="77.8" font-size="13.5" textLength="17.8" lengthAdjust="spacingAndGlyphs">90</text>
<line x1="1195.5" y1="95.5" x2="1199.5" y2="95.5" stroke="#18234f" stroke-width="1"/>
<text x="1199.6" y="98.9" font-size="13.5" textLength="17.8" lengthAdjust="spacingAndGlyphs">70</text>
<line x1="1195.5" y1="137.7" x2="1199.5" y2="137.7" stroke="#18234f" stroke-width="1"/>
<text x="1199.6" y="141.1" font-size="13.5" textLength="17.8" lengthAdjust="spacingAndGlyphs">30</text>
<line x1="1195.5" y1="158.8" x2="1199.5" y2="158.8" stroke="#18234f" stroke-width="1"/>
<text x="1199.6" y="162.2" font-size="13.5" textLength="17.8" lengthAdjust="spacingAndGlyphs">10</text>
<line x1="1195.5" y1="520.0" x2="1199.5" y2="520.0" stroke="#18234f" stroke-width="1"/>
<text x="1199.6" y="523.4" font-size="13.5" textLength="31.1" lengthAdjust="spacingAndGlyphs">21.0</text>
<line x1="1195.5" y1="489.1" x2="1199.5" y2="489.1" stroke="#18234f" stroke-width="1"/>
<text x="1199.6" y="492.5" font-size="13.5" textLength="31.1" lengthAdjust="spacingAndGlyphs">21.5</text>
<line x1="1195.5" y1="458.2" x2="1199.5" y2="458.2" stroke="#18234f" stroke-width="1"/>
<text x="1199.6" y="461.6" font-size="13.5" textLength="31.1" lengthAdjust="spacingAndGlyphs">22.0</text>
<line x1="1195.5" y1="427.3" x2="1199.5" y2="427.3" stroke="#18234f" stroke-width="1"/>
<text x="1199.6" y="430.7" font-size="13.5" textLength="31.1" lengthAdjust="spacingAndGlyphs">22.5</text>
<line x1="1195.5" y1="334.6" x2="1199.5" y2="334.6" stroke="#18234f" stroke-width="1"/>
<text x="1199.6" y="338.0" font-size="13.5" textLength="31.1" lengthAdjust="spacingAndGlyphs">24.0</text>
<line x1="1195.5" y1="303.7" x2="1199.5" y2="303.7" stroke="#18234f" stroke-width="1"/>
<text x="1199.6" y="307.1" font-size="13.5" textLength="31.1" lengthAdjust="spacingAndGlyphs">24.5</text>
<line x1="1195.5" y1="272.8" x2="1199.5" y2="272.8" stroke="#18234f" stroke-width="1"/>
<text x="1199.6" y="276.2" font-size="13.5" textLength="31.1" lengthAdjust="spacingAndGlyphs">25.0</text>
<line x1="1195.5" y1="241.9" x2="1199.5" y2="241.9" stroke="#18234f" stroke-width="1"/>
<text x="1199.6" y="245.3" font-size="13.5" textLength="31.1" lengthAdjust="spacingAndGlyphs">25.5</text>
<line x1="1195.5" y1="211.0" x2="1199.5" y2="211.0" stroke="#18234f" stroke-width="1"/>
<text x="1199.6" y="214.4" font-size="13.5" textLength="31.1" lengthAdjust="spacingAndGlyphs">26.0</text>
<line x1="1195.5" y1="198.6" x2="1198.0" y2="198.6" stroke="#18234f" stroke-width="1"/>
<line x1="1195.5" y1="204.8" x2="1198.0" y2="204.8" stroke="#18234f" stroke-width="1"/>
<line x1="1195.5" y1="211.0" x2="1198.0" y2="211.0" stroke="#18234f" stroke-width="1"/>
<line x1="1195.5" y1="217.2" x2="1198.0" y2="217.2" stroke="#18234f" stroke-width="1"/>
<line x1="1195.5" y1="223.4" x2="1198.0" y2="223.4" stroke="#18234f" stroke-width="1"/>
<line x1="1195.5" y1="229.5" x2="1198.0" y2="229.5" stroke="#18234f" stroke-width="1"/>
<line x1="1195.5" y1="235.7" x2="1198.0" y2="235.7" stroke="#18234f" stroke-width="1"/>
<line x1="1195.5" y1="241.9" x2="1198.0" y2="241.9" stroke="#18234f" stroke-width="1"/>
<line x1="1195.5" y1="248.1" x2="1198.0" y2="248.1" stroke="#18234f" stroke-width="1"/>
<line x1="1195.5" y1="254.3" x2="1198.0" y2="254.3" stroke="#18234f" stroke-width="1"/>
<line x1="1195.5" y1="260.4" x2="1198.0" y2="260.4" stroke="#18234f" stroke-width="1"/>
<line x1="1195.5" y1="266.6" x2="1198.0" y2="266.6" stroke="#18234f" stroke-width="1"/>
<line x1="1195.5" y1="272.8" x2="1198.0" y2="272.8" stroke="#18234f" stroke-width="1"/>
<line x1="1195.5" y1="279.0" x2="1198.0" y2="279.0" stroke="#18234f" stroke-width="1"/>
<line x1="1195.5" y1="285.2" x2="1198.0" y2="285.2" stroke="#18234f" stroke-width="1"/>
<line x1="1195.5" y1="291.3" x2="1198.0" y2="291.3" stroke="#18234f" stroke-width="1"/>
<line x1="1195.5" y1="297.5" x2="1198.0" y2="297.5" stroke="#18234f" stroke-width="1"/>
<line x1="1195.5" y1="303.7" x2="1198.0" y2="303.7" stroke="#18234f" stroke-width="1"/>
<line x1="1195.5" y1="309.9" x2="1198.0" y2="309.9" stroke="#18234f" stroke-width="1"/>
<line x1="1195.5" y1="316.1" x2="1198.0" y2="316.1" stroke="#18234f" stroke-width="1"/>
<line x1="1195.5" y1="322.2" x2="1198.0" y2="322.2" stroke="#18234f" stroke-width="1"/>
<line x1="1195.5" y1="328.4" x2="1198.0" y2="328.4" stroke="#18234f" stroke-width="1"/>
<line x1="1195.5" y1="334.6" x2="1198.0" y2="334.6" stroke="#18234f" stroke-width="1"/>
<line x1="1195.5" y1="340.8" x2="1198.0" y2="340.8" stroke="#18234f" stroke-width="1"/>
<line x1="1195.5" y1="347.0" x2="1198.0" y2="347.0" stroke="#18234f" stroke-width="1"/>
<line x1="1195.5" y1="353.1" x2="1198.0" y2="353.1" stroke="#18234f" stroke-width="1"/>
<line x1="1195.5" y1="359.3" x2="1198.0" y2="359.3" stroke="#18234f" stroke-width="1"/>
<line x1="1195.5" y1="365.5" x2="1198.0" y2="365.5" stroke="#18234f" stroke-width="1"/>
<line x1="1195.5" y1="371.7" x2="1198.0" y2="371.7" stroke="#18234f" stroke-width="1"/>
<line x1="1195.5" y1="377.9" x2="1198.0" y2="377.9" stroke="#18234f" stroke-width="1"/>
<line x1="1195.5" y1="384.0" x2="1198.0" y2="384.0" stroke="#18234f" stroke-width="1"/>
<line x1="1195.5" y1="390.2" x2="1198.0" y2="390.2" stroke="#18234f" stroke-width="1"/>
<line x1="1195.5" y1="396.4" x2="1198.0" y2="396.4" stroke="#18234f" stroke-width="1"/>
<line x1="1195.5" y1="402.6" x2="1198.0" y2="402.6" stroke="#18234f" stroke-width="1"/>
<line x1="1195.5" y1="408.8" x2="1198.0" y2="408.8" stroke="#18234f" stroke-width="1"/>
<line x1="1195.5" y1="414.9" x2="1198.0" y2="414.9" stroke="#18234f" stroke-width="1"/>
<line x1="1195.5" y1="421.1" x2="1198.0" y2="421.1" stroke="#18234f" stroke-width="1"/>
<line x1="1195.5" y1="427.3" x2="1198.0" y2="427.3" stroke="#18234f" stroke-width="1"/>
<line x1="1195.5" y1="433.5" x2="1198.0" y2="433.5" stroke="#18234f" stroke-width="1"/>
<line x1="1195.5" y1="439.7" x2="1198.0" y2="439.7" stroke="#18234f" stroke-width="1"/>
<line x1="1195.5" y1="445.8" x2="1198.0" y2="445.8" stroke="#18234f" stroke-width="1"/>
<line x1="1195.5" y1="452.0" x2="1198.0" y2="452.0" stroke="#18234f" stroke-width="1"/>
<line x1="1195.5" y1="458.2" x2="1198.0" y2="458.2" stroke="#18234f" stroke-width="1"/>
<line x1="1195.5" y1="464.4" x2="1198.0" y2="464.4" stroke="#18234f" stroke-width="1"/>
<line x1="1195.5" y1="470.6" x2="1198.0" y2="470.6" stroke="#18234f" stroke-width="1"/>
<line x1="1195.5" y1="476.7" x2="1198.0" y2="476.7" stroke="#18234f" stroke-width="1"/>
<line x1="1195.5" y1="482.9" x2="1198.0" y2="482.9" stroke="#18234f" stroke-width="1"/>
<line x1="1195.5" y1="489.1" x2="1198.0" y2="489.1" stroke="#18234f" stroke-width="1"/>
<line x1="1195.5" y1="495.3" x2="1198.0" y2="495.3" stroke="#18234f" stroke-width="1"/>
<line x1="1195.5" y1="501.5" x2="1198.0" y2="501.5" stroke="#18234f" stroke-width="1"/>
<line x1="1195.5" y1="507.6" x2="1198.0" y2="507.6" stroke="#18234f" stroke-width="1"/>
<line x1="1195.5" y1="513.8" x2="1198.0" y2="513.8" stroke="#18234f" stroke-width="1"/>
<line x1="1195.5" y1="520.0" x2="1198.0" y2="520.0" stroke="#18234f" stroke-width="1"/>
<line x1="1195.5" y1="526.2" x2="1198.0" y2="526.2" stroke="#18234f" stroke-width="1"/>
<line x1="1195.5" y1="532.4" x2="1198.0" y2="532.4" stroke="#18234f" stroke-width="1"/>
<line x1="1195.5" y1="396.4" x2="1199.5" y2="396.4" stroke="#18234f" stroke-width="1"/>
<text x="1199.6" y="399.8" font-size="13.5" textLength="31.1" lengthAdjust="spacingAndGlyphs">23.0</text>
<line x1="1195.5" y1="657.7" x2="1199.5" y2="657.7" stroke="#18234f" stroke-width="1"/>
<text x="1199.6" y="661.1" font-size="13.5" textLength="35.5" lengthAdjust="spacingAndGlyphs">2.5M</text>
<line x1="1195.5" y1="630.9" x2="1199.5" y2="630.9" stroke="#18234f" stroke-width="1"/>
<text x="1199.6" y="634.3" font-size="13.5" textLength="35.5" lengthAdjust="spacingAndGlyphs">5.0M</text>
<line x1="1195.5" y1="604.1" x2="1199.5" y2="604.1" stroke="#18234f" stroke-width="1"/>
<text x="1199.6" y="607.5" font-size="13.5" textLength="35.5" lengthAdjust="spacingAndGlyphs">7.5M</text>
<line x1="1195.5" y1="577.3" x2="1199.5" y2="577.3" stroke="#18234f" stroke-width="1"/>
<text x="1199.6" y="580.7" font-size="13.5" textLength="44.4" lengthAdjust="spacingAndGlyphs">10.0M</text>
<line x1="1195.5" y1="690.3" x2="1199.5" y2="690.3" stroke="#18234f" stroke-width="1"/>
<text x="1199.6" y="693.7" font-size="13.5" textLength="31.1" lengthAdjust="spacingAndGlyphs">0.75</text>
<line x1="1195.5" y1="710.5" x2="1199.5" y2="710.5" stroke="#18234f" stroke-width="1"/>
<text x="1199.6" y="713.9" font-size="13.5" textLength="31.1" lengthAdjust="spacingAndGlyphs">0.50</text>
<line x1="1195.5" y1="730.6" x2="1199.5" y2="730.6" stroke="#18234f" stroke-width="1"/>
<text x="1199.6" y="734.0" font-size="13.5" textLength="31.1" lengthAdjust="spacingAndGlyphs">0.25</text>
<line x1="1195.5" y1="770.9" x2="1199.5" y2="770.9" stroke="#18234f" stroke-width="1"/>
<text x="1197.5" y="774.3" font-size="13.5" textLength="36.4" lengthAdjust="spacingAndGlyphs">-0.25</text>
<line x1="1195.5" y1="791.1" x2="1199.5" y2="791.1" stroke="#18234f" stroke-width="1"/>
<text x="1197.5" y="794.5" font-size="13.5" textLength="36.4" lengthAdjust="spacingAndGlyphs">-0.50</text>
<line x1="1195.5" y1="874.0" x2="1199.5" y2="874.0" stroke="#18234f" stroke-width="1"/>
<text x="1199.6" y="877.4" font-size="13.5" textLength="17.8" lengthAdjust="spacingAndGlyphs">50</text>
<line x1="1195.5" y1="905.6" x2="1199.5" y2="905.6" stroke="#18234f" stroke-width="1"/>
<text x="1199.6" y="909.0" font-size="13.5" textLength="17.8" lengthAdjust="spacingAndGlyphs">20</text>
<polygon points="1191,113.7 1197.5,105.7 1242,105.7 1242,121.7 1197.5,121.7" fill="#fff" stroke="#3a5aa0" stroke-width="1.5"/>
<text x="1198.5" y="118.7" font-size="13.8" textLength="40.7" lengthAdjust="spacingAndGlyphs">52.74</text>
<polygon points="1191,362.3 1197.5,354.3 1242,354.3 1242,370.3 1197.5,370.3" fill="#fff" stroke="#3b7a2c" stroke-width="1.5"/>
<text x="1198.5" y="367.3" font-size="13.8" textLength="40.7" lengthAdjust="spacingAndGlyphs">23.53</text>
<polygon points="1191,378.5 1197.5,370.5 1242,370.5 1242,386.5 1197.5,386.5" fill="#fff" stroke="#d02040" stroke-width="1.5"/>
<text x="1198.5" y="383.5" font-size="13.8" textLength="40.7" lengthAdjust="spacingAndGlyphs">23.27</text>
<polygon points="1191,387.2 1197.5,378.9 1242,378.9 1242,395.5 1197.5,395.5" fill="#fff" stroke="#111" stroke-width="1.5"/>
<text x="1198.5" y="392.2" font-size="13.8" font-weight="bold" textLength="40.7" lengthAdjust="spacingAndGlyphs">23.14</text>
<polygon points="1191,583.5 1197.5,577.0 1275,577.0 1275,590.0 1197.5,590.0" fill="#fff" stroke="#111" stroke-width="1.5"/>
<text x="1198.0" y="588.5" font-size="13.5" textLength="64.5" lengthAdjust="spacingAndGlyphs">9402300.</text>
<polygon points="1191,765.0 1197.5,757.6 1245.6,757.6 1245.6,772.4 1197.5,772.4" fill="#fff" stroke="#d8203c" stroke-width="1.5"/>
<text x="1198.0" y="770.0" font-size="13.8" textLength="44.8" lengthAdjust="spacingAndGlyphs">-0.181</text>
<polygon points="1191,741.3 1197.5,734.7 1241,734.7 1241,747.9 1197.5,747.9" fill="#fff" stroke="#3a5aa0" stroke-width="1.5"/>
<text x="1199.0" y="746.3" font-size="13.8" textLength="39.2" lengthAdjust="spacingAndGlyphs">0.097</text>
<polygon points="1191,756.6 1197.5,749.3 1245.6,749.3 1245.6,763.9 1197.5,763.9" fill="#fff" stroke="#1f3878" stroke-width="1.5"/>
<text x="1198.0" y="761.6" font-size="13.8" textLength="44.8" lengthAdjust="spacingAndGlyphs">-0.084</text>
<polygon points="1191,844.8 1197.5,836.8 1242,836.8 1242,852.8 1197.5,852.8" fill="#fff" stroke="#28478e" stroke-width="1.5"/>
<text x="1198.5" y="849.8" font-size="13.8" textLength="40.7" lengthAdjust="spacingAndGlyphs">78.09</text>
<polygon points="1191,865.5 1197.5,857.5 1242,857.5 1242,873.5 1197.5,873.5" fill="#fff" stroke="#d8203c" stroke-width="1.5"/>
<text x="1198.5" y="870.5" font-size="13.8" textLength="40.7" lengthAdjust="spacingAndGlyphs">58.32</text>
<text x="19.6" y="31.8" font-size="21.2" font-weight="bold" textLength="79.6" lengthAdjust="spacingAndGlyphs">$SILVER</text>
<text x="105.7" y="30.7" font-size="16" textLength="249.7" lengthAdjust="spacingAndGlyphs">Silver - Continuous Contract (EOD)</text>
<text x="363.8" y="30.7" font-size="14.5" textLength="32.1" lengthAdjust="spacingAndGlyphs">CME</text>
<text x="19.0" y="49.3" font-size="14.3" textLength="89.7" lengthAdjust="spacingAndGlyphs">20-Feb-2024</text>
<text x="550.3" y="49.2" font-size="15.6" font-weight="bold" textLength="41.3" lengthAdjust="spacingAndGlyphs">Open</text>
<text x="597.3" y="49.2" font-size="15.6" textLength="39.0" lengthAdjust="spacingAndGlyphs">23.47</text>
<text x="646.0" y="49.2" font-size="15.6" font-weight="bold" textLength="34.5" lengthAdjust="spacingAndGlyphs">High</text>
<text x="686.2" y="49.2" font-size="15.6" textLength="40.2" lengthAdjust="spacingAndGlyphs">23.51</text>
<text x="736.0" y="49.2" font-size="15.6" font-weight="bold" textLength="34.5" lengthAdjust="spacingAndGlyphs">Low</text>
<text x="776.0" y="49.2" font-size="15.6" textLength="41.0" lengthAdjust="spacingAndGlyphs">22.95</text>
<text x="825.5" y="49.2" font-size="15.6" font-weight="bold" textLength="47.1" lengthAdjust="spacingAndGlyphs">Close</text>
<text x="878.3" y="49.2" font-size="15.6" textLength="40.1" lengthAdjust="spacingAndGlyphs">23.14</text>
<text x="928.8" y="49.2" font-size="15.6" font-weight="bold" textLength="61.2" lengthAdjust="spacingAndGlyphs">Volume</text>
<text x="997.0" y="49.2" font-size="15.6" textLength="35.0" lengthAdjust="spacingAndGlyphs">9.4M</text>
<text x="1042.0" y="49.2" font-size="15.6" font-weight="bold" textLength="32.4" lengthAdjust="spacingAndGlyphs">Chg</text>
<text x="1079.0" y="49.2" font-size="15.6" textLength="100.3" lengthAdjust="spacingAndGlyphs">-0.34 (-1.44%)</text>
<polygon points="1183,42.5 1195,42.5 1189,49" fill="#b0102c"/>
<text x="1060.0" y="29.8" font-size="12.5" fill="#41446f" textLength="11.0" lengthAdjust="spacingAndGlyphs">©</text>
<text x="1075.0" y="29.8" font-size="15.2" fill="#41446f" textLength="119.0" lengthAdjust="spacingAndGlyphs">StockCharts.com</text>
<circle cx="1264" cy="15" r="16" fill="#4a4a4a" opacity="0.55"/><circle cx="1264" cy="15" r="14.3" fill="#333"/><circle cx="1264" cy="15" r="12.6" fill="none" stroke="#d8d8d8" stroke-width="1.3"/>
<path d="M1259,7 L1271,23 M1271,7 L1259,23" stroke="#fff" stroke-width="2.6"/>
</svg></body></html>
